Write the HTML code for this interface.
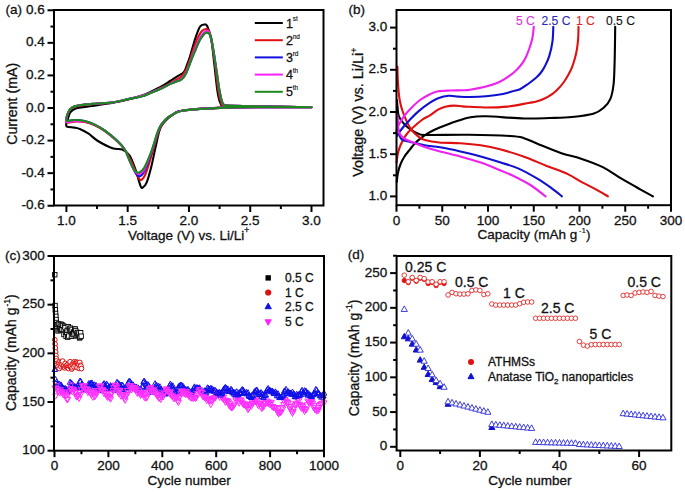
<!DOCTYPE html><html><head><meta charset="utf-8"><style>html,body{margin:0;padding:0;background:#fff;}svg{display:block;}</style></head><body>
<svg width="685" height="492" viewBox="0 0 685 492" font-family="Liberation Sans">
<rect width="685" height="492" fill="#fff"/>
<path d="M311.50,107.30 C297.08,107.35 246.33,107.07 225.00,107.60 C203.67,108.13 192.05,109.43 183.50,110.50 C174.95,111.57 177.40,111.37 173.70,114.00 C170.00,116.63 164.18,121.40 161.30,126.30 C158.42,131.20 158.02,136.88 156.40,143.40 C154.78,149.92 153.22,158.90 151.60,165.40 C149.98,171.90 148.13,178.75 146.70,182.40 C145.27,186.05 144.02,186.68 143.00,187.30 C141.98,187.92 141.82,188.95 140.60,186.10 C139.38,183.25 137.53,175.28 135.70,170.20 C133.87,165.12 131.83,159.05 129.60,155.60 C127.37,152.15 125.15,150.72 122.30,149.50 C119.45,148.28 116.57,149.72 112.50,148.30 C108.43,146.88 101.88,143.43 97.90,141.00 C93.92,138.57 91.52,135.67 88.60,133.70 C85.68,131.73 82.78,130.22 80.40,129.20 C78.02,128.18 76.55,128.03 74.30,127.60 C72.05,127.17 68.22,127.37 66.90,126.60 C65.58,125.83 66.27,124.18 66.40,123.00 C66.53,121.82 67.05,121.27 67.70,119.50 C68.35,117.73 68.85,114.27 70.30,112.40 C71.75,110.53 73.18,109.32 76.40,108.30 C79.62,107.28 83.33,107.27 89.60,106.30 C95.87,105.33 105.27,104.30 114.00,102.50 C122.73,100.70 134.12,98.18 142.00,95.50 C149.88,92.82 156.63,88.82 161.30,86.40 C165.97,83.98 167.27,82.70 170.00,81.00 C172.73,79.30 175.40,77.68 177.70,76.20 C180.00,74.72 182.28,73.88 183.80,72.10 C185.32,70.32 185.78,68.05 186.80,65.50 C187.82,62.95 188.87,60.05 189.90,56.80 C190.93,53.55 191.98,49.42 193.00,46.00 C194.02,42.58 194.82,39.55 196.00,36.30 C197.18,33.05 198.73,28.47 200.10,26.50 C201.47,24.53 203.00,24.53 204.20,24.50 C205.40,24.47 206.10,23.65 207.30,26.30 C208.50,28.95 210.22,33.95 211.40,40.40 C212.58,46.85 213.38,56.48 214.40,65.00 C215.42,73.52 216.47,85.08 217.50,91.50 C218.53,97.92 219.18,101.17 220.60,103.50 C222.02,105.83 218.77,105.00 226.00,105.50 C233.23,106.00 249.75,106.22 264.00,106.50 C278.25,106.78 303.58,107.08 311.50,107.20" fill="none" stroke="#000000" stroke-width="2.1" stroke-linejoin="round" stroke-linecap="round"/>
<path d="M311.50,107.30 C297.08,107.35 246.33,107.07 225.00,107.60 C203.67,108.13 192.05,109.43 183.50,110.50 C174.95,111.57 176.95,112.17 173.70,114.00 C170.45,115.83 166.53,118.50 164.00,121.50 C161.47,124.50 160.50,126.58 158.50,132.00 C156.50,137.42 154.17,147.00 152.00,154.00 C149.83,161.00 147.33,169.67 145.50,174.00 C143.67,178.33 142.33,179.67 141.00,180.00 C139.67,180.33 139.08,179.00 137.50,176.00 C135.92,173.00 133.58,166.33 131.50,162.00 C129.42,157.67 127.35,153.42 125.00,150.00 C122.65,146.58 120.75,144.63 117.40,141.50 C114.05,138.37 108.68,133.92 104.90,131.20 C101.12,128.48 98.10,126.73 94.70,125.20 C91.30,123.67 87.90,122.60 84.50,122.00 C81.10,121.40 77.27,121.55 74.30,121.60 C71.33,121.65 67.72,123.73 66.70,122.30 C65.68,120.87 67.27,115.42 68.20,113.00 C69.13,110.58 70.43,109.03 72.30,107.80 C74.17,106.57 75.67,106.23 79.40,105.60 C83.13,104.97 88.93,104.55 94.70,104.00 C100.47,103.45 106.05,103.68 114.00,102.30 C121.95,100.92 134.52,98.12 142.40,95.70 C150.28,93.28 156.45,90.00 161.30,87.80 C166.15,85.60 168.77,83.97 171.50,82.50 C174.23,81.03 175.87,80.17 177.70,79.00 C179.53,77.83 181.12,77.00 182.50,75.50 C183.88,74.00 184.77,72.58 186.00,70.00 C187.23,67.42 188.73,63.25 189.90,60.00 C191.07,56.75 191.98,53.50 193.00,50.50 C194.02,47.50 194.92,44.67 196.00,42.00 C197.08,39.33 198.42,36.42 199.50,34.50 C200.58,32.58 201.55,31.38 202.50,30.50 C203.45,29.62 204.20,29.20 205.20,29.20 C206.20,29.20 207.45,28.70 208.50,30.50 C209.55,32.30 210.50,35.08 211.50,40.00 C212.50,44.92 213.45,52.17 214.50,60.00 C215.55,67.83 216.72,80.08 217.80,87.00 C218.88,93.92 219.60,98.42 221.00,101.50 C222.40,104.58 219.03,104.67 226.20,105.50 C233.37,106.33 249.78,106.22 264.00,106.50 C278.22,106.78 303.58,107.08 311.50,107.20" fill="none" stroke="#e01010" stroke-width="2.1" stroke-linejoin="round" stroke-linecap="round"/>
<path d="M311.50,107.30 C297.08,107.35 246.33,107.07 225.00,107.60 C203.67,108.13 192.05,109.43 183.50,110.50 C174.95,111.57 176.78,112.42 173.70,114.00 C170.62,115.58 167.47,117.42 165.00,120.00 C162.53,122.58 161.10,124.17 158.90,129.50 C156.70,134.83 154.20,145.08 151.80,152.00 C149.40,158.92 146.55,166.95 144.50,171.00 C142.45,175.05 141.00,175.97 139.50,176.30 C138.00,176.63 137.08,175.47 135.50,173.00 C133.92,170.53 131.80,165.42 130.00,161.50 C128.20,157.58 126.80,152.92 124.70,149.50 C122.60,146.08 120.70,144.13 117.40,141.00 C114.10,137.87 108.68,133.43 104.90,130.70 C101.12,127.97 98.10,126.22 94.70,124.60 C91.30,122.98 87.90,121.77 84.50,121.00 C81.10,120.23 77.27,120.08 74.30,120.00 C71.33,119.92 67.72,121.77 66.70,120.50 C65.68,119.23 67.27,114.60 68.20,112.40 C69.13,110.20 70.43,108.48 72.30,107.30 C74.17,106.12 75.67,105.90 79.40,105.30 C83.13,104.70 88.93,104.22 94.70,103.70 C100.47,103.18 108.42,102.97 114.00,102.20 C119.58,101.43 123.70,100.03 128.20,99.10 C132.70,98.17 137.20,97.65 141.00,96.60 C144.80,95.55 147.62,94.15 151.00,92.80 C154.38,91.45 157.88,90.07 161.30,88.50 C164.72,86.93 168.88,84.60 171.50,83.40 C174.12,82.20 175.30,81.98 177.00,81.30 C178.70,80.62 180.23,80.55 181.70,79.30 C183.17,78.05 184.43,76.43 185.80,73.80 C187.17,71.17 188.70,66.55 189.90,63.50 C191.10,60.45 191.98,57.98 193.00,55.50 C194.02,53.02 195.00,50.93 196.00,48.60 C197.00,46.27 197.97,43.55 199.00,41.50 C200.03,39.45 200.98,37.80 202.20,36.30 C203.42,34.80 204.93,32.63 206.30,32.50 C207.67,32.37 209.22,32.47 210.40,35.50 C211.58,38.53 212.38,44.77 213.40,50.70 C214.42,56.63 215.47,64.30 216.50,71.10 C217.53,77.90 218.58,86.13 219.60,91.50 C220.62,96.87 221.50,100.97 222.60,103.30 C223.70,105.63 223.77,105.08 226.20,105.50 C228.63,105.92 230.90,105.63 237.20,105.80 C243.50,105.97 251.62,106.27 264.00,106.50 C276.38,106.73 303.58,107.08 311.50,107.20" fill="none" stroke="#1010e0" stroke-width="2.1" stroke-linejoin="round" stroke-linecap="round"/>
<path d="M311.50,107.30 C297.08,107.35 246.33,107.07 225.00,107.60 C203.67,108.13 192.05,109.43 183.50,110.50 C174.95,111.57 176.70,112.50 173.70,114.00 C170.70,115.50 167.97,117.00 165.50,119.50 C163.03,122.00 161.20,123.75 158.90,129.00 C156.60,134.25 154.13,144.25 151.70,151.00 C149.27,157.75 146.42,165.63 144.30,169.50 C142.18,173.37 140.55,173.87 139.00,174.20 C137.45,174.53 136.53,173.70 135.00,171.50 C133.47,169.30 131.52,164.67 129.80,161.00 C128.08,157.33 126.77,152.83 124.70,149.50 C122.63,146.17 120.70,144.13 117.40,141.00 C114.10,137.87 108.68,133.43 104.90,130.70 C101.12,127.97 98.10,126.13 94.70,124.60 C91.30,123.07 87.90,122.07 84.50,121.50 C81.10,120.93 77.27,121.15 74.30,121.20 C71.33,121.25 67.72,123.27 66.70,121.80 C65.68,120.33 67.27,114.82 68.20,112.40 C69.13,109.98 70.43,108.48 72.30,107.30 C74.17,106.12 75.67,105.90 79.40,105.30 C83.13,104.70 88.93,104.22 94.70,103.70 C100.47,103.18 108.42,102.97 114.00,102.20 C119.58,101.43 123.47,100.20 128.20,99.10 C132.93,98.00 136.88,97.40 142.40,95.60 C147.92,93.80 156.45,90.37 161.30,88.30 C166.15,86.23 168.88,84.42 171.50,83.20 C174.12,81.98 175.30,81.78 177.00,81.00 C178.70,80.22 180.23,79.83 181.70,78.50 C183.17,77.17 184.43,75.67 185.80,73.00 C187.17,70.33 188.70,65.67 189.90,62.50 C191.10,59.33 191.98,56.67 193.00,54.00 C194.02,51.33 195.00,48.92 196.00,46.50 C197.00,44.08 197.97,41.50 199.00,39.50 C200.03,37.50 201.03,35.92 202.20,34.50 C203.37,33.08 204.78,31.25 206.00,31.00 C207.22,30.75 208.33,30.17 209.50,33.00 C210.67,35.83 211.83,41.83 213.00,48.00 C214.17,54.17 215.40,62.83 216.50,70.00 C217.60,77.17 218.58,85.45 219.60,91.00 C220.62,96.55 221.50,100.88 222.60,103.30 C223.70,105.72 223.77,105.08 226.20,105.50 C228.63,105.92 230.90,105.63 237.20,105.80 C243.50,105.97 251.62,106.27 264.00,106.50 C276.38,106.73 303.58,107.08 311.50,107.20" fill="none" stroke="#ff20ff" stroke-width="2.1" stroke-linejoin="round" stroke-linecap="round"/>
<path d="M311.50,107.30 C303.58,107.25 278.42,106.95 264.00,107.00 C249.58,107.05 235.17,107.30 225.00,107.60 C214.83,107.90 209.92,108.32 203.00,108.80 C196.08,109.28 188.38,109.63 183.50,110.50 C178.62,111.37 176.58,112.58 173.70,114.00 C170.82,115.42 168.67,116.53 166.20,119.00 C163.73,121.47 161.33,123.52 158.90,128.80 C156.47,134.08 154.05,144.20 151.60,150.70 C149.15,157.20 146.37,164.13 144.20,167.80 C142.03,171.47 140.22,172.30 138.60,172.70 C136.98,173.10 136.00,172.23 134.50,170.20 C133.00,168.17 131.23,163.95 129.60,160.50 C127.97,157.05 126.73,152.75 124.70,149.50 C122.67,146.25 120.70,144.13 117.40,141.00 C114.10,137.87 108.68,133.43 104.90,130.70 C101.12,127.97 98.10,126.22 94.70,124.60 C91.30,122.98 87.90,121.77 84.50,121.00 C81.10,120.23 77.27,120.08 74.30,120.00 C71.33,119.92 67.72,121.77 66.70,120.50 C65.68,119.23 67.27,114.60 68.20,112.40 C69.13,110.20 70.43,108.48 72.30,107.30 C74.17,106.12 75.67,105.90 79.40,105.30 C83.13,104.70 88.93,104.22 94.70,103.70 C100.47,103.18 108.42,102.97 114.00,102.20 C119.58,101.43 123.70,100.03 128.20,99.10 C132.70,98.17 137.20,97.65 141.00,96.60 C144.80,95.55 147.62,94.15 151.00,92.80 C154.38,91.45 157.88,90.07 161.30,88.50 C164.72,86.93 168.88,84.60 171.50,83.40 C174.12,82.20 175.30,81.98 177.00,81.30 C178.70,80.62 180.23,80.55 181.70,79.30 C183.17,78.05 184.43,76.43 185.80,73.80 C187.17,71.17 188.70,66.55 189.90,63.50 C191.10,60.45 191.98,57.98 193.00,55.50 C194.02,53.02 195.00,50.93 196.00,48.60 C197.00,46.27 197.97,43.55 199.00,41.50 C200.03,39.45 200.98,37.80 202.20,36.30 C203.42,34.80 204.93,32.63 206.30,32.50 C207.67,32.37 209.22,32.47 210.40,35.50 C211.58,38.53 212.38,44.77 213.40,50.70 C214.42,56.63 215.47,64.30 216.50,71.10 C217.53,77.90 218.58,86.13 219.60,91.50 C220.62,96.87 221.50,100.97 222.60,103.30 C223.70,105.63 223.77,105.08 226.20,105.50 C228.63,105.92 230.90,105.63 237.20,105.80 C243.50,105.97 251.62,106.27 264.00,106.50 C276.38,106.73 303.58,107.08 311.50,107.20" fill="none" stroke="#1a8a1a" stroke-width="2.1" stroke-linejoin="round" stroke-linecap="round"/>
<rect x="54.00" y="10.00" width="269.50" height="195.50" fill="none" stroke="#000" stroke-width="2.0"/>
<line x1="66.40" y1="205.50" x2="66.40" y2="212.00" stroke="#000" stroke-width="2"/>
<text x="66.40" y="225.10" font-size="13.5" text-anchor="middle" fill="#111" stroke="#111" stroke-width="0.3" >1.0</text>
<line x1="127.68" y1="205.50" x2="127.68" y2="212.00" stroke="#000" stroke-width="2"/>
<text x="127.68" y="225.10" font-size="13.5" text-anchor="middle" fill="#111" stroke="#111" stroke-width="0.3" >1.5</text>
<line x1="188.95" y1="205.50" x2="188.95" y2="212.00" stroke="#000" stroke-width="2"/>
<text x="188.95" y="225.10" font-size="13.5" text-anchor="middle" fill="#111" stroke="#111" stroke-width="0.3" >2.0</text>
<line x1="250.22" y1="205.50" x2="250.22" y2="212.00" stroke="#000" stroke-width="2"/>
<text x="250.22" y="225.10" font-size="13.5" text-anchor="middle" fill="#111" stroke="#111" stroke-width="0.3" >2.5</text>
<line x1="311.50" y1="205.50" x2="311.50" y2="212.00" stroke="#000" stroke-width="2"/>
<text x="311.50" y="225.10" font-size="13.5" text-anchor="middle" fill="#111" stroke="#111" stroke-width="0.3" >3.0</text>
<line x1="97.04" y1="205.50" x2="97.04" y2="209.00" stroke="#000" stroke-width="2"/>
<line x1="158.31" y1="205.50" x2="158.31" y2="209.00" stroke="#000" stroke-width="2"/>
<line x1="219.59" y1="205.50" x2="219.59" y2="209.00" stroke="#000" stroke-width="2"/>
<line x1="280.86" y1="205.50" x2="280.86" y2="209.00" stroke="#000" stroke-width="2"/>
<line x1="47.50" y1="10.26" x2="54.00" y2="10.26" stroke="#000" stroke-width="2"/>
<text x="44.70" y="13.86" font-size="13.5" text-anchor="end" fill="#111" stroke="#111" stroke-width="0.3" >0.6</text>
<line x1="47.50" y1="42.84" x2="54.00" y2="42.84" stroke="#000" stroke-width="2"/>
<text x="44.70" y="46.44" font-size="13.5" text-anchor="end" fill="#111" stroke="#111" stroke-width="0.3" >0.4</text>
<line x1="47.50" y1="75.42" x2="54.00" y2="75.42" stroke="#000" stroke-width="2"/>
<text x="44.70" y="79.02" font-size="13.5" text-anchor="end" fill="#111" stroke="#111" stroke-width="0.3" >0.2</text>
<line x1="47.50" y1="108.00" x2="54.00" y2="108.00" stroke="#000" stroke-width="2"/>
<text x="44.70" y="111.60" font-size="13.5" text-anchor="end" fill="#111" stroke="#111" stroke-width="0.3" >0.0</text>
<line x1="47.50" y1="140.58" x2="54.00" y2="140.58" stroke="#000" stroke-width="2"/>
<text x="44.70" y="144.18" font-size="13.5" text-anchor="end" fill="#111" stroke="#111" stroke-width="0.3" >-0.2</text>
<line x1="47.50" y1="173.16" x2="54.00" y2="173.16" stroke="#000" stroke-width="2"/>
<text x="44.70" y="176.76" font-size="13.5" text-anchor="end" fill="#111" stroke="#111" stroke-width="0.3" >-0.4</text>
<line x1="47.50" y1="205.74" x2="54.00" y2="205.74" stroke="#000" stroke-width="2"/>
<text x="44.70" y="209.34" font-size="13.5" text-anchor="end" fill="#111" stroke="#111" stroke-width="0.3" >-0.6</text>
<line x1="50.50" y1="26.55" x2="54.00" y2="26.55" stroke="#000" stroke-width="2"/>
<line x1="50.50" y1="59.13" x2="54.00" y2="59.13" stroke="#000" stroke-width="2"/>
<line x1="50.50" y1="91.71" x2="54.00" y2="91.71" stroke="#000" stroke-width="2"/>
<line x1="50.50" y1="124.29" x2="54.00" y2="124.29" stroke="#000" stroke-width="2"/>
<line x1="50.50" y1="156.87" x2="54.00" y2="156.87" stroke="#000" stroke-width="2"/>
<line x1="50.50" y1="189.45" x2="54.00" y2="189.45" stroke="#000" stroke-width="2"/>
<text x="5.50" y="13.80" font-size="13.5" text-anchor="start" fill="#111" stroke="#111" stroke-width="0.3" >(a)</text>
<text x="128.00" y="239.50" font-size="13.5" text-anchor="start" fill="#111" stroke="#111" stroke-width="0.3" >Voltage (V) vs. Li/Li<tspan dy="-6.5" font-size="8.5">+</tspan></text>
<text transform="translate(16.8,103.8) rotate(-90)" font-size="14.2" text-anchor="middle" fill="#111" stroke="#111" stroke-width="0.3">Current (mA)</text>
<line x1="254.8" y1="23.00" x2="282.8" y2="23.00" stroke="#000000" stroke-width="2.0"/>
<text x="286.00" y="27.60" font-size="12.5" text-anchor="start" fill="#111" stroke="#111" stroke-width="0.3" >1<tspan dx="-0.3" dy="-6.3" font-size="6.5" stroke-width="0.15">st</tspan></text>
<line x1="254.8" y1="40.20" x2="282.8" y2="40.20" stroke="#e01010" stroke-width="2.0"/>
<text x="286.00" y="44.80" font-size="12.5" text-anchor="start" fill="#111" stroke="#111" stroke-width="0.3" >2<tspan dx="-0.3" dy="-6.3" font-size="6.5" stroke-width="0.15">nd</tspan></text>
<line x1="254.8" y1="57.40" x2="282.8" y2="57.40" stroke="#1010e0" stroke-width="2.0"/>
<text x="286.00" y="62.00" font-size="12.5" text-anchor="start" fill="#111" stroke="#111" stroke-width="0.3" >3<tspan dx="-0.3" dy="-6.3" font-size="6.5" stroke-width="0.15">rd</tspan></text>
<line x1="254.8" y1="74.60" x2="282.8" y2="74.60" stroke="#ff20ff" stroke-width="2.0"/>
<text x="286.00" y="79.20" font-size="12.5" text-anchor="start" fill="#111" stroke="#111" stroke-width="0.3" >4<tspan dx="-0.3" dy="-6.3" font-size="6.5" stroke-width="0.15">th</tspan></text>
<line x1="254.8" y1="91.80" x2="282.8" y2="91.80" stroke="#1a8a1a" stroke-width="2.0"/>
<text x="286.00" y="96.40" font-size="12.5" text-anchor="start" fill="#111" stroke="#111" stroke-width="0.3" >5<tspan dx="-0.3" dy="-6.3" font-size="6.5" stroke-width="0.15">th</tspan></text>
<path d="M396.80,181.80 C396.98,180.33 397.27,175.97 397.90,173.00 C398.53,170.03 399.50,166.75 400.60,164.00 C401.70,161.25 402.93,158.95 404.50,156.50 C406.07,154.05 408.25,151.52 410.00,149.30 C411.75,147.08 413.20,145.05 415.00,143.20 C416.80,141.35 418.88,139.72 420.80,138.20 C422.72,136.68 424.30,135.47 426.50,134.10 C428.70,132.73 431.88,131.05 434.00,130.00 C436.12,128.95 435.58,129.22 439.20,127.80 C442.82,126.38 450.47,123.27 455.70,121.50 C460.93,119.73 465.55,118.07 470.60,117.20 C475.65,116.33 477.03,116.08 486.00,116.30 C494.97,116.52 513.73,118.22 524.40,118.50 C535.07,118.78 542.07,118.25 550.00,118.00 C557.93,117.75 564.78,117.70 572.00,117.00 C579.22,116.30 587.97,115.40 593.30,113.80 C598.63,112.20 601.15,109.88 604.00,107.40 C606.85,104.92 608.80,102.80 610.40,98.90 C612.00,95.00 612.90,90.03 613.60,84.00 C614.30,77.97 614.37,69.70 614.60,62.70 C614.83,55.70 614.90,47.98 615.00,42.00 C615.10,36.02 615.17,29.33 615.20,26.80" fill="none" stroke="#000000" stroke-width="2.1" stroke-linejoin="round" stroke-linecap="round"/>
<path d="M396.90,100.00 C397.02,101.33 397.27,105.28 397.60,108.00 C397.93,110.72 397.87,113.70 398.90,116.30 C399.93,118.90 401.90,121.43 403.80,123.60 C405.70,125.77 407.87,127.62 410.30,129.30 C412.73,130.98 415.70,132.75 418.40,133.70 C421.10,134.65 418.17,134.82 426.50,135.00 C434.83,135.18 454.48,134.63 468.40,134.80 C482.32,134.97 500.83,135.48 510.00,136.00 C519.17,136.52 518.83,136.62 523.40,137.90 C527.97,139.18 531.18,141.18 537.40,143.70 C543.62,146.22 553.30,150.47 560.70,153.00 C568.10,155.53 574.78,156.55 581.80,158.90 C588.82,161.25 596.18,163.80 602.80,167.10 C609.42,170.40 615.27,175.00 621.50,178.70 C627.73,182.40 634.95,186.37 640.20,189.30 C645.45,192.23 650.87,195.13 653.00,196.30" fill="none" stroke="#000000" stroke-width="2.1" stroke-linejoin="round" stroke-linecap="round"/>
<path d="M396.60,162.40 C396.82,160.87 397.23,156.10 397.90,153.20 C398.57,150.30 399.35,147.90 400.60,145.00 C401.85,142.10 403.52,138.55 405.40,135.80 C407.28,133.05 409.05,131.22 411.90,128.50 C414.75,125.78 419.48,121.70 422.50,119.50 C425.52,117.30 427.40,116.95 430.00,115.30 C432.60,113.65 435.38,111.08 438.10,109.60 C440.82,108.12 443.58,107.07 446.30,106.40 C449.02,105.73 451.70,105.60 454.40,105.60 C457.10,105.60 459.90,106.20 462.50,106.40 C465.10,106.60 466.08,106.62 470.00,106.80 C473.92,106.98 479.78,107.53 486.00,107.50 C492.22,107.47 500.18,107.35 507.30,106.60 C514.42,105.85 523.87,103.83 528.70,103.00 C533.53,102.17 533.75,102.30 536.30,101.60 C538.85,100.90 541.30,100.10 544.00,98.80 C546.70,97.50 550.17,95.43 552.50,93.80 C554.83,92.17 556.10,90.97 558.00,89.00 C559.90,87.03 562.15,84.42 563.90,82.00 C565.65,79.58 567.15,76.95 568.50,74.50 C569.85,72.05 570.92,70.05 572.00,67.30 C573.08,64.55 574.18,60.98 575.00,58.00 C575.82,55.02 576.37,52.73 576.90,49.40 C577.43,46.07 577.93,41.77 578.20,38.00 C578.47,34.23 578.45,28.67 578.50,26.80" fill="none" stroke="#e01010" stroke-width="2.1" stroke-linejoin="round" stroke-linecap="round"/>
<path d="M397.40,66.60 C397.47,68.83 397.58,75.77 397.80,80.00 C398.02,84.23 398.38,88.67 398.70,92.00 C399.02,95.33 399.13,97.03 399.70,100.00 C400.27,102.97 401.02,106.42 402.10,109.80 C403.18,113.18 404.70,117.05 406.20,120.30 C407.70,123.55 409.07,126.58 411.10,129.30 C413.13,132.02 416.10,134.82 418.40,136.60 C420.70,138.38 421.43,139.02 424.90,140.00 C428.37,140.98 433.30,141.97 439.20,142.50 C445.10,143.03 453.38,142.73 460.30,143.20 C467.22,143.67 474.08,144.28 480.70,145.30 C487.32,146.32 492.88,147.43 500.00,149.30 C507.12,151.17 515.62,153.73 523.40,156.50 C531.18,159.27 539.30,162.97 546.70,165.90 C554.10,168.83 561.95,171.38 567.80,174.10 C573.65,176.82 577.13,179.67 581.80,182.20 C586.47,184.73 591.45,186.95 595.80,189.30 C600.15,191.65 605.88,195.13 607.90,196.30" fill="none" stroke="#e01010" stroke-width="2.1" stroke-linejoin="round" stroke-linecap="round"/>
<path d="M397.30,136.00 C397.42,135.68 397.20,135.35 398.00,134.10 C398.80,132.85 400.20,130.80 402.10,128.50 C404.00,126.20 406.68,123.15 409.40,120.30 C412.12,117.45 414.97,114.33 418.40,111.40 C421.83,108.47 426.72,104.88 430.00,102.70 C433.28,100.52 434.98,99.45 438.10,98.30 C441.22,97.15 445.30,96.08 448.70,95.80 C452.10,95.52 454.95,96.40 458.50,96.60 C462.05,96.80 465.42,97.05 470.00,97.00 C474.58,96.95 480.50,96.80 486.00,96.30 C491.50,95.80 498.67,94.80 503.00,94.00 C507.33,93.20 509.17,92.30 512.00,91.50 C514.83,90.70 517.32,90.45 520.00,89.20 C522.68,87.95 525.38,85.95 528.10,84.00 C530.82,82.05 534.15,79.42 536.30,77.50 C538.45,75.58 539.55,74.42 541.00,72.50 C542.45,70.58 543.62,68.77 545.00,66.00 C546.38,63.23 548.05,60.02 549.30,55.90 C550.55,51.78 551.83,46.15 552.50,41.30 C553.17,36.45 553.17,29.22 553.30,26.80" fill="none" stroke="#1010d0" stroke-width="2.1" stroke-linejoin="round" stroke-linecap="round"/>
<path d="M397.00,118.00 C397.25,120.17 397.87,127.62 398.50,131.00 C399.13,134.38 399.72,136.67 400.80,138.30 C401.88,139.93 403.47,140.20 405.00,140.80 C406.53,141.40 406.73,141.15 410.00,141.90 C413.27,142.65 419.60,144.40 424.60,145.30 C429.60,146.20 434.05,146.28 440.00,147.30 C445.95,148.32 453.52,149.88 460.30,151.40 C467.08,152.92 474.08,154.58 480.70,156.40 C487.32,158.22 493.67,160.27 500.00,162.30 C506.33,164.33 512.47,165.87 518.70,168.60 C524.93,171.33 531.95,175.45 537.40,178.70 C542.85,181.95 547.32,185.17 551.40,188.10 C555.48,191.03 560.15,194.93 561.90,196.30" fill="none" stroke="#1010d0" stroke-width="2.1" stroke-linejoin="round" stroke-linecap="round"/>
<path d="M396.40,130.90 C396.82,129.82 397.53,126.98 398.90,124.40 C400.27,121.82 402.70,117.98 404.60,115.40 C406.50,112.82 407.73,111.47 410.30,108.90 C412.87,106.33 416.72,102.45 420.00,100.00 C423.28,97.55 426.98,95.65 430.00,94.20 C433.02,92.75 434.72,91.92 438.10,91.30 C441.48,90.68 446.23,90.67 450.30,90.50 C454.37,90.33 459.22,90.43 462.50,90.30 C465.78,90.17 466.08,90.33 470.00,89.70 C473.92,89.07 481.20,87.75 486.00,86.50 C490.80,85.25 495.07,83.87 498.80,82.20 C502.53,80.53 505.70,78.28 508.40,76.50 C511.10,74.72 512.90,73.42 515.00,71.50 C517.10,69.58 519.25,67.25 521.00,65.00 C522.75,62.75 524.08,60.83 525.50,58.00 C526.92,55.17 528.35,51.33 529.50,48.00 C530.65,44.67 531.68,41.53 532.40,38.00 C533.12,34.47 533.57,28.67 533.80,26.80" fill="none" stroke="#ee22ee" stroke-width="2.1" stroke-linejoin="round" stroke-linecap="round"/>
<path d="M397.30,114.80 C397.43,116.67 397.83,123.05 398.10,126.00 C398.37,128.95 397.95,130.47 398.90,132.50 C399.85,134.53 401.95,136.75 403.80,138.20 C405.65,139.65 406.53,139.73 410.00,141.20 C413.47,142.67 419.60,145.30 424.60,147.00 C429.60,148.70 434.05,149.83 440.00,151.40 C445.95,152.97 453.52,154.53 460.30,156.40 C467.08,158.27 474.08,160.30 480.70,162.60 C487.32,164.90 494.45,167.93 500.00,170.20 C505.55,172.47 508.93,173.73 514.00,176.20 C519.07,178.67 525.13,181.65 530.40,185.00 C535.67,188.35 543.07,194.42 545.60,196.30" fill="none" stroke="#ee22ee" stroke-width="2.1" stroke-linejoin="round" stroke-linecap="round"/>
<rect x="396.50" y="10.00" width="274.50" height="195.20" fill="none" stroke="#000" stroke-width="2.0"/>
<line x1="396.50" y1="205.20" x2="396.50" y2="211.70" stroke="#000" stroke-width="2"/>
<text x="396.50" y="224.80" font-size="13.5" text-anchor="middle" fill="#111" stroke="#111" stroke-width="0.3" >0</text>
<line x1="442.25" y1="205.20" x2="442.25" y2="211.70" stroke="#000" stroke-width="2"/>
<text x="442.25" y="224.80" font-size="13.5" text-anchor="middle" fill="#111" stroke="#111" stroke-width="0.3" >50</text>
<line x1="488.00" y1="205.20" x2="488.00" y2="211.70" stroke="#000" stroke-width="2"/>
<text x="488.00" y="224.80" font-size="13.5" text-anchor="middle" fill="#111" stroke="#111" stroke-width="0.3" >100</text>
<line x1="533.75" y1="205.20" x2="533.75" y2="211.70" stroke="#000" stroke-width="2"/>
<text x="533.75" y="224.80" font-size="13.5" text-anchor="middle" fill="#111" stroke="#111" stroke-width="0.3" >150</text>
<line x1="579.50" y1="205.20" x2="579.50" y2="211.70" stroke="#000" stroke-width="2"/>
<text x="579.50" y="224.80" font-size="13.5" text-anchor="middle" fill="#111" stroke="#111" stroke-width="0.3" >200</text>
<line x1="625.25" y1="205.20" x2="625.25" y2="211.70" stroke="#000" stroke-width="2"/>
<text x="625.25" y="224.80" font-size="13.5" text-anchor="middle" fill="#111" stroke="#111" stroke-width="0.3" >250</text>
<line x1="671.00" y1="205.20" x2="671.00" y2="211.70" stroke="#000" stroke-width="2"/>
<text x="671.00" y="224.80" font-size="13.5" text-anchor="middle" fill="#111" stroke="#111" stroke-width="0.3" >300</text>
<line x1="419.38" y1="205.20" x2="419.38" y2="208.70" stroke="#000" stroke-width="2"/>
<line x1="465.12" y1="205.20" x2="465.12" y2="208.70" stroke="#000" stroke-width="2"/>
<line x1="510.88" y1="205.20" x2="510.88" y2="208.70" stroke="#000" stroke-width="2"/>
<line x1="556.62" y1="205.20" x2="556.62" y2="208.70" stroke="#000" stroke-width="2"/>
<line x1="602.38" y1="205.20" x2="602.38" y2="208.70" stroke="#000" stroke-width="2"/>
<line x1="648.12" y1="205.20" x2="648.12" y2="208.70" stroke="#000" stroke-width="2"/>
<line x1="390.00" y1="196.40" x2="396.50" y2="196.40" stroke="#000" stroke-width="2"/>
<text x="387.20" y="200.00" font-size="13.5" text-anchor="end" fill="#111" stroke="#111" stroke-width="0.3" >1.0</text>
<line x1="390.00" y1="154.20" x2="396.50" y2="154.20" stroke="#000" stroke-width="2"/>
<text x="387.20" y="157.80" font-size="13.5" text-anchor="end" fill="#111" stroke="#111" stroke-width="0.3" >1.5</text>
<line x1="390.00" y1="112.00" x2="396.50" y2="112.00" stroke="#000" stroke-width="2"/>
<text x="387.20" y="115.60" font-size="13.5" text-anchor="end" fill="#111" stroke="#111" stroke-width="0.3" >2.0</text>
<line x1="390.00" y1="69.80" x2="396.50" y2="69.80" stroke="#000" stroke-width="2"/>
<text x="387.20" y="73.40" font-size="13.5" text-anchor="end" fill="#111" stroke="#111" stroke-width="0.3" >2.5</text>
<line x1="390.00" y1="27.60" x2="396.50" y2="27.60" stroke="#000" stroke-width="2"/>
<text x="387.20" y="31.20" font-size="13.5" text-anchor="end" fill="#111" stroke="#111" stroke-width="0.3" >3.0</text>
<line x1="393.00" y1="175.30" x2="396.50" y2="175.30" stroke="#000" stroke-width="2"/>
<line x1="393.00" y1="133.10" x2="396.50" y2="133.10" stroke="#000" stroke-width="2"/>
<line x1="393.00" y1="90.90" x2="396.50" y2="90.90" stroke="#000" stroke-width="2"/>
<line x1="393.00" y1="48.70" x2="396.50" y2="48.70" stroke="#000" stroke-width="2"/>
<text x="348.50" y="13.80" font-size="13.5" text-anchor="start" fill="#111" stroke="#111" stroke-width="0.3" >(b)</text>
<text x="477.50" y="239.30" font-size="13.5" text-anchor="start" fill="#111" stroke="#111" stroke-width="0.3" >Capacity (mAh g<tspan dx="1.5" dy="-6.5" font-size="8" stroke-width="0.15">-1</tspan><tspan dy="6.5">)</tspan></text>
<text transform="translate(363.0,176.8) rotate(-90)" font-size="14.4" fill="#111" stroke="#111" stroke-width="0.3">Voltage (V) vs. Li/Li<tspan dy="-6.5" font-size="8.5">+</tspan></text>
<text x="516.00" y="24.80" font-size="12.1" text-anchor="start" fill="#dd33dd" stroke="#dd33dd" stroke-width="0.3" style="stroke-width:0.12">5 C</text>
<text x="541.50" y="24.80" font-size="12.1" text-anchor="start" fill="#2a2ab8" stroke="#2a2ab8" stroke-width="0.3" style="stroke-width:0.12">2.5 C</text>
<text x="576.00" y="24.80" font-size="12.1" text-anchor="start" fill="#dd2222" stroke="#dd2222" stroke-width="0.3" style="stroke-width:0.12">1 C</text>
<text x="606.00" y="24.80" font-size="12.1" text-anchor="start" fill="#111" stroke="#111" stroke-width="0.3" style="stroke-width:0.12">0.5 C</text>
<rect x="52.57" y="272.50" width="4.4" height="4.4" fill="#fff" stroke="#000" stroke-width="0.9"/>
<rect x="52.84" y="303.30" width="4.4" height="4.4" fill="#fff" stroke="#000" stroke-width="0.9"/>
<rect x="53.11" y="307.60" width="4.4" height="4.4" fill="#fff" stroke="#000" stroke-width="0.9"/>
<rect x="53.38" y="311.20" width="4.4" height="4.4" fill="#fff" stroke="#000" stroke-width="0.9"/>
<rect x="53.65" y="314.10" width="4.4" height="4.4" fill="#fff" stroke="#000" stroke-width="0.9"/>
<rect x="53.92" y="317.30" width="4.4" height="4.4" fill="#fff" stroke="#000" stroke-width="0.9"/>
<rect x="54.19" y="320.30" width="4.4" height="4.4" fill="#fff" stroke="#000" stroke-width="0.9"/>
<rect x="54.46" y="322.80" width="4.4" height="4.4" fill="#fff" stroke="#000" stroke-width="0.9"/>
<rect x="54.73" y="324.35" width="4.4" height="4.4" fill="#fff" stroke="#000" stroke-width="0.9"/>
<rect x="55.26" y="322.35" width="4.4" height="4.4" fill="#fff" stroke="#000" stroke-width="0.9"/>
<rect x="55.80" y="328.72" width="4.4" height="4.4" fill="#fff" stroke="#000" stroke-width="0.9"/>
<rect x="56.34" y="321.72" width="4.4" height="4.4" fill="#fff" stroke="#000" stroke-width="0.9"/>
<rect x="56.88" y="327.58" width="4.4" height="4.4" fill="#fff" stroke="#000" stroke-width="0.9"/>
<rect x="57.42" y="325.65" width="4.4" height="4.4" fill="#fff" stroke="#000" stroke-width="0.9"/>
<rect x="57.96" y="322.06" width="4.4" height="4.4" fill="#fff" stroke="#000" stroke-width="0.9"/>
<rect x="58.50" y="327.68" width="4.4" height="4.4" fill="#fff" stroke="#000" stroke-width="0.9"/>
<rect x="59.04" y="322.16" width="4.4" height="4.4" fill="#fff" stroke="#000" stroke-width="0.9"/>
<rect x="59.58" y="327.09" width="4.4" height="4.4" fill="#fff" stroke="#000" stroke-width="0.9"/>
<rect x="60.12" y="322.89" width="4.4" height="4.4" fill="#fff" stroke="#000" stroke-width="0.9"/>
<rect x="60.65" y="323.31" width="4.4" height="4.4" fill="#fff" stroke="#000" stroke-width="0.9"/>
<rect x="61.19" y="327.44" width="4.4" height="4.4" fill="#fff" stroke="#000" stroke-width="0.9"/>
<rect x="61.73" y="332.33" width="4.4" height="4.4" fill="#fff" stroke="#000" stroke-width="0.9"/>
<rect x="62.27" y="324.21" width="4.4" height="4.4" fill="#fff" stroke="#000" stroke-width="0.9"/>
<rect x="62.81" y="325.54" width="4.4" height="4.4" fill="#fff" stroke="#000" stroke-width="0.9"/>
<rect x="63.35" y="330.40" width="4.4" height="4.4" fill="#fff" stroke="#000" stroke-width="0.9"/>
<rect x="63.89" y="334.25" width="4.4" height="4.4" fill="#fff" stroke="#000" stroke-width="0.9"/>
<rect x="64.43" y="330.11" width="4.4" height="4.4" fill="#fff" stroke="#000" stroke-width="0.9"/>
<rect x="64.97" y="328.19" width="4.4" height="4.4" fill="#fff" stroke="#000" stroke-width="0.9"/>
<rect x="65.51" y="334.95" width="4.4" height="4.4" fill="#fff" stroke="#000" stroke-width="0.9"/>
<rect x="66.04" y="324.52" width="4.4" height="4.4" fill="#fff" stroke="#000" stroke-width="0.9"/>
<rect x="66.58" y="333.86" width="4.4" height="4.4" fill="#fff" stroke="#000" stroke-width="0.9"/>
<rect x="67.12" y="327.60" width="4.4" height="4.4" fill="#fff" stroke="#000" stroke-width="0.9"/>
<rect x="67.66" y="326.13" width="4.4" height="4.4" fill="#fff" stroke="#000" stroke-width="0.9"/>
<rect x="68.20" y="326.01" width="4.4" height="4.4" fill="#fff" stroke="#000" stroke-width="0.9"/>
<rect x="68.74" y="328.29" width="4.4" height="4.4" fill="#fff" stroke="#000" stroke-width="0.9"/>
<rect x="69.28" y="334.04" width="4.4" height="4.4" fill="#fff" stroke="#000" stroke-width="0.9"/>
<rect x="69.82" y="327.20" width="4.4" height="4.4" fill="#fff" stroke="#000" stroke-width="0.9"/>
<rect x="70.36" y="331.74" width="4.4" height="4.4" fill="#fff" stroke="#000" stroke-width="0.9"/>
<rect x="70.90" y="332.51" width="4.4" height="4.4" fill="#fff" stroke="#000" stroke-width="0.9"/>
<rect x="71.43" y="329.77" width="4.4" height="4.4" fill="#fff" stroke="#000" stroke-width="0.9"/>
<rect x="71.97" y="331.81" width="4.4" height="4.4" fill="#fff" stroke="#000" stroke-width="0.9"/>
<rect x="72.51" y="326.77" width="4.4" height="4.4" fill="#fff" stroke="#000" stroke-width="0.9"/>
<rect x="73.05" y="326.91" width="4.4" height="4.4" fill="#fff" stroke="#000" stroke-width="0.9"/>
<rect x="73.59" y="328.63" width="4.4" height="4.4" fill="#fff" stroke="#000" stroke-width="0.9"/>
<rect x="74.13" y="333.79" width="4.4" height="4.4" fill="#fff" stroke="#000" stroke-width="0.9"/>
<rect x="74.67" y="331.28" width="4.4" height="4.4" fill="#fff" stroke="#000" stroke-width="0.9"/>
<rect x="75.21" y="330.25" width="4.4" height="4.4" fill="#fff" stroke="#000" stroke-width="0.9"/>
<rect x="75.75" y="333.22" width="4.4" height="4.4" fill="#fff" stroke="#000" stroke-width="0.9"/>
<rect x="76.29" y="332.00" width="4.4" height="4.4" fill="#fff" stroke="#000" stroke-width="0.9"/>
<rect x="76.82" y="330.58" width="4.4" height="4.4" fill="#fff" stroke="#000" stroke-width="0.9"/>
<rect x="77.36" y="335.78" width="4.4" height="4.4" fill="#fff" stroke="#000" stroke-width="0.9"/>
<rect x="77.90" y="334.95" width="4.4" height="4.4" fill="#fff" stroke="#000" stroke-width="0.9"/>
<rect x="78.44" y="330.50" width="4.4" height="4.4" fill="#fff" stroke="#000" stroke-width="0.9"/>
<rect x="78.98" y="333.97" width="4.4" height="4.4" fill="#fff" stroke="#000" stroke-width="0.9"/>
<circle cx="54.77" cy="339.80" r="2.4" fill="#fff" stroke="#e01010" stroke-width="1"/>
<circle cx="55.04" cy="344.00" r="2.4" fill="#fff" stroke="#e01010" stroke-width="1"/>
<circle cx="55.31" cy="348.00" r="2.4" fill="#fff" stroke="#e01010" stroke-width="1"/>
<circle cx="55.58" cy="352.00" r="2.4" fill="#fff" stroke="#e01010" stroke-width="1"/>
<circle cx="55.85" cy="355.50" r="2.4" fill="#fff" stroke="#e01010" stroke-width="1"/>
<circle cx="56.12" cy="358.50" r="2.4" fill="#fff" stroke="#e01010" stroke-width="1"/>
<circle cx="56.39" cy="361.00" r="2.4" fill="#fff" stroke="#e01010" stroke-width="1"/>
<circle cx="56.66" cy="363.50" r="2.4" fill="#fff" stroke="#e01010" stroke-width="1"/>
<circle cx="56.93" cy="365.50" r="2.4" fill="#fff" stroke="#e01010" stroke-width="1"/>
<circle cx="57.20" cy="364.70" r="2.4" fill="#fff" stroke="#e01010" stroke-width="1"/>
<circle cx="57.73" cy="367.52" r="2.4" fill="#fff" stroke="#e01010" stroke-width="1"/>
<circle cx="58.27" cy="366.39" r="2.4" fill="#fff" stroke="#e01010" stroke-width="1"/>
<circle cx="58.81" cy="362.89" r="2.4" fill="#fff" stroke="#e01010" stroke-width="1"/>
<circle cx="59.35" cy="368.43" r="2.4" fill="#fff" stroke="#e01010" stroke-width="1"/>
<circle cx="59.89" cy="361.60" r="2.4" fill="#fff" stroke="#e01010" stroke-width="1"/>
<circle cx="60.43" cy="364.02" r="2.4" fill="#fff" stroke="#e01010" stroke-width="1"/>
<circle cx="60.97" cy="366.73" r="2.4" fill="#fff" stroke="#e01010" stroke-width="1"/>
<circle cx="61.51" cy="361.97" r="2.4" fill="#fff" stroke="#e01010" stroke-width="1"/>
<circle cx="62.05" cy="364.66" r="2.4" fill="#fff" stroke="#e01010" stroke-width="1"/>
<circle cx="62.59" cy="361.14" r="2.4" fill="#fff" stroke="#e01010" stroke-width="1"/>
<circle cx="63.12" cy="366.13" r="2.4" fill="#fff" stroke="#e01010" stroke-width="1"/>
<circle cx="63.66" cy="366.91" r="2.4" fill="#fff" stroke="#e01010" stroke-width="1"/>
<circle cx="64.20" cy="365.43" r="2.4" fill="#fff" stroke="#e01010" stroke-width="1"/>
<circle cx="64.74" cy="367.83" r="2.4" fill="#fff" stroke="#e01010" stroke-width="1"/>
<circle cx="65.28" cy="363.46" r="2.4" fill="#fff" stroke="#e01010" stroke-width="1"/>
<circle cx="65.82" cy="366.47" r="2.4" fill="#fff" stroke="#e01010" stroke-width="1"/>
<circle cx="66.36" cy="365.71" r="2.4" fill="#fff" stroke="#e01010" stroke-width="1"/>
<circle cx="66.90" cy="365.62" r="2.4" fill="#fff" stroke="#e01010" stroke-width="1"/>
<circle cx="67.44" cy="364.69" r="2.4" fill="#fff" stroke="#e01010" stroke-width="1"/>
<circle cx="67.97" cy="367.70" r="2.4" fill="#fff" stroke="#e01010" stroke-width="1"/>
<circle cx="68.51" cy="368.54" r="2.4" fill="#fff" stroke="#e01010" stroke-width="1"/>
<circle cx="69.05" cy="364.91" r="2.4" fill="#fff" stroke="#e01010" stroke-width="1"/>
<circle cx="69.59" cy="366.41" r="2.4" fill="#fff" stroke="#e01010" stroke-width="1"/>
<circle cx="70.13" cy="361.77" r="2.4" fill="#fff" stroke="#e01010" stroke-width="1"/>
<circle cx="70.67" cy="366.75" r="2.4" fill="#fff" stroke="#e01010" stroke-width="1"/>
<circle cx="71.21" cy="366.36" r="2.4" fill="#fff" stroke="#e01010" stroke-width="1"/>
<circle cx="71.75" cy="369.05" r="2.4" fill="#fff" stroke="#e01010" stroke-width="1"/>
<circle cx="72.29" cy="367.75" r="2.4" fill="#fff" stroke="#e01010" stroke-width="1"/>
<circle cx="72.83" cy="363.65" r="2.4" fill="#fff" stroke="#e01010" stroke-width="1"/>
<circle cx="73.37" cy="364.46" r="2.4" fill="#fff" stroke="#e01010" stroke-width="1"/>
<circle cx="73.90" cy="366.65" r="2.4" fill="#fff" stroke="#e01010" stroke-width="1"/>
<circle cx="74.44" cy="361.74" r="2.4" fill="#fff" stroke="#e01010" stroke-width="1"/>
<circle cx="74.98" cy="365.12" r="2.4" fill="#fff" stroke="#e01010" stroke-width="1"/>
<circle cx="75.52" cy="362.91" r="2.4" fill="#fff" stroke="#e01010" stroke-width="1"/>
<circle cx="76.06" cy="362.56" r="2.4" fill="#fff" stroke="#e01010" stroke-width="1"/>
<circle cx="76.60" cy="362.15" r="2.4" fill="#fff" stroke="#e01010" stroke-width="1"/>
<circle cx="77.14" cy="367.56" r="2.4" fill="#fff" stroke="#e01010" stroke-width="1"/>
<circle cx="77.68" cy="362.75" r="2.4" fill="#fff" stroke="#e01010" stroke-width="1"/>
<circle cx="78.22" cy="363.67" r="2.4" fill="#fff" stroke="#e01010" stroke-width="1"/>
<circle cx="78.75" cy="364.79" r="2.4" fill="#fff" stroke="#e01010" stroke-width="1"/>
<circle cx="79.29" cy="368.44" r="2.4" fill="#fff" stroke="#e01010" stroke-width="1"/>
<circle cx="79.83" cy="362.51" r="2.4" fill="#fff" stroke="#e01010" stroke-width="1"/>
<circle cx="80.37" cy="365.31" r="2.4" fill="#fff" stroke="#e01010" stroke-width="1"/>
<circle cx="80.91" cy="366.09" r="2.4" fill="#fff" stroke="#e01010" stroke-width="1"/>
<circle cx="81.45" cy="368.63" r="2.4" fill="#fff" stroke="#e01010" stroke-width="1"/>
<path d="M54.77,366.48 L57.57,371.52 L51.97,371.52 Z" fill="none" stroke="#1010e8" stroke-width="1.0"/>
<path d="M55.58,376.48 L58.38,381.52 L52.78,381.52 Z" fill="none" stroke="#1010e8" stroke-width="1.0"/>
<path d="M56.39,379.26 L59.19,384.30 L53.59,384.30 Z" fill="none" stroke="#1010e8" stroke-width="1.0"/>
<path d="M57.20,382.20 L59.99,387.24 L54.40,387.24 Z" fill="none" stroke="#1010e8" stroke-width="1.0"/>
<path d="M58.00,381.38 L60.80,386.42 L55.20,386.42 Z" fill="none" stroke="#1010e8" stroke-width="1.0"/>
<path d="M58.81,382.42 L61.61,387.46 L56.01,387.46 Z" fill="none" stroke="#1010e8" stroke-width="1.0"/>
<path d="M59.62,381.19 L62.42,386.23 L56.82,386.23 Z" fill="none" stroke="#1010e8" stroke-width="1.0"/>
<path d="M60.43,382.73 L63.23,387.77 L57.63,387.77 Z" fill="none" stroke="#1010e8" stroke-width="1.0"/>
<path d="M61.24,382.01 L64.04,387.05 L58.44,387.05 Z" fill="none" stroke="#1010e8" stroke-width="1.0"/>
<path d="M62.05,384.09 L64.85,389.13 L59.25,389.13 Z" fill="none" stroke="#1010e8" stroke-width="1.0"/>
<path d="M62.85,385.99 L65.65,391.03 L60.05,391.03 Z" fill="none" stroke="#1010e8" stroke-width="1.0"/>
<path d="M63.66,385.47 L66.46,390.51 L60.86,390.51 Z" fill="none" stroke="#1010e8" stroke-width="1.0"/>
<path d="M64.47,385.81 L67.27,390.85 L61.67,390.85 Z" fill="none" stroke="#1010e8" stroke-width="1.0"/>
<path d="M65.28,385.51 L68.08,390.55 L62.48,390.55 Z" fill="none" stroke="#1010e8" stroke-width="1.0"/>
<path d="M66.09,386.23 L68.89,391.27 L63.29,391.27 Z" fill="none" stroke="#1010e8" stroke-width="1.0"/>
<path d="M66.90,387.87 L69.70,392.91 L64.10,392.91 Z" fill="none" stroke="#1010e8" stroke-width="1.0"/>
<path d="M67.71,388.02 L70.51,393.06 L64.91,393.06 Z" fill="none" stroke="#1010e8" stroke-width="1.0"/>
<path d="M68.51,388.41 L71.31,393.45 L65.71,393.45 Z" fill="none" stroke="#1010e8" stroke-width="1.0"/>
<path d="M69.32,385.94 L72.12,390.98 L66.52,390.98 Z" fill="none" stroke="#1010e8" stroke-width="1.0"/>
<path d="M70.13,379.15 L72.93,384.19 L67.33,384.19 Z" fill="none" stroke="#1010e8" stroke-width="1.0"/>
<path d="M70.94,379.98 L73.74,385.02 L68.14,385.02 Z" fill="none" stroke="#1010e8" stroke-width="1.0"/>
<path d="M71.75,380.60 L74.55,385.64 L68.95,385.64 Z" fill="none" stroke="#1010e8" stroke-width="1.0"/>
<path d="M72.56,382.92 L75.36,387.96 L69.76,387.96 Z" fill="none" stroke="#1010e8" stroke-width="1.0"/>
<path d="M73.37,382.34 L76.17,387.38 L70.57,387.38 Z" fill="none" stroke="#1010e8" stroke-width="1.0"/>
<path d="M74.17,383.54 L76.97,388.58 L71.37,388.58 Z" fill="none" stroke="#1010e8" stroke-width="1.0"/>
<path d="M74.98,383.69 L77.78,388.73 L72.18,388.73 Z" fill="none" stroke="#1010e8" stroke-width="1.0"/>
<path d="M75.79,385.06 L78.59,390.10 L72.99,390.10 Z" fill="none" stroke="#1010e8" stroke-width="1.0"/>
<path d="M76.60,384.95 L79.40,389.99 L73.80,389.99 Z" fill="none" stroke="#1010e8" stroke-width="1.0"/>
<path d="M77.41,382.94 L80.21,387.98 L74.61,387.98 Z" fill="none" stroke="#1010e8" stroke-width="1.0"/>
<path d="M78.22,384.47 L81.02,389.51 L75.42,389.51 Z" fill="none" stroke="#1010e8" stroke-width="1.0"/>
<path d="M79.02,383.11 L81.82,388.15 L76.22,388.15 Z" fill="none" stroke="#1010e8" stroke-width="1.0"/>
<path d="M79.83,378.24 L82.63,383.28 L77.03,383.28 Z" fill="none" stroke="#1010e8" stroke-width="1.0"/>
<path d="M80.64,378.27 L83.44,383.31 L77.84,383.31 Z" fill="none" stroke="#1010e8" stroke-width="1.0"/>
<path d="M81.45,381.97 L84.25,387.01 L78.65,387.01 Z" fill="none" stroke="#1010e8" stroke-width="1.0"/>
<path d="M82.26,381.41 L85.06,386.45 L79.46,386.45 Z" fill="none" stroke="#1010e8" stroke-width="1.0"/>
<path d="M83.07,384.11 L85.87,389.15 L80.27,389.15 Z" fill="none" stroke="#1010e8" stroke-width="1.0"/>
<path d="M83.88,383.18 L86.68,388.22 L81.08,388.22 Z" fill="none" stroke="#1010e8" stroke-width="1.0"/>
<path d="M84.68,386.37 L87.48,391.41 L81.88,391.41 Z" fill="none" stroke="#1010e8" stroke-width="1.0"/>
<path d="M85.49,386.84 L88.29,391.88 L82.69,391.88 Z" fill="none" stroke="#1010e8" stroke-width="1.0"/>
<path d="M86.30,384.36 L89.10,389.40 L83.50,389.40 Z" fill="none" stroke="#1010e8" stroke-width="1.0"/>
<path d="M87.11,384.15 L89.91,389.19 L84.31,389.19 Z" fill="none" stroke="#1010e8" stroke-width="1.0"/>
<path d="M87.92,384.66 L90.72,389.70 L85.12,389.70 Z" fill="none" stroke="#1010e8" stroke-width="1.0"/>
<path d="M88.73,380.61 L91.53,385.65 L85.93,385.65 Z" fill="none" stroke="#1010e8" stroke-width="1.0"/>
<path d="M89.53,381.13 L92.33,386.17 L86.73,386.17 Z" fill="none" stroke="#1010e8" stroke-width="1.0"/>
<path d="M90.34,380.25 L93.14,385.29 L87.54,385.29 Z" fill="none" stroke="#1010e8" stroke-width="1.0"/>
<path d="M91.15,380.63 L93.95,385.67 L88.35,385.67 Z" fill="none" stroke="#1010e8" stroke-width="1.0"/>
<path d="M91.96,379.93 L94.76,384.97 L89.16,384.97 Z" fill="none" stroke="#1010e8" stroke-width="1.0"/>
<path d="M92.77,381.98 L95.57,387.02 L89.97,387.02 Z" fill="none" stroke="#1010e8" stroke-width="1.0"/>
<path d="M93.58,384.51 L96.38,389.55 L90.78,389.55 Z" fill="none" stroke="#1010e8" stroke-width="1.0"/>
<path d="M94.39,381.84 L97.19,386.88 L91.59,386.88 Z" fill="none" stroke="#1010e8" stroke-width="1.0"/>
<path d="M95.19,384.61 L97.99,389.65 L92.39,389.65 Z" fill="none" stroke="#1010e8" stroke-width="1.0"/>
<path d="M96.00,382.30 L98.80,387.34 L93.20,387.34 Z" fill="none" stroke="#1010e8" stroke-width="1.0"/>
<path d="M96.81,384.60 L99.61,389.64 L94.01,389.64 Z" fill="none" stroke="#1010e8" stroke-width="1.0"/>
<path d="M97.62,385.17 L100.42,390.21 L94.82,390.21 Z" fill="none" stroke="#1010e8" stroke-width="1.0"/>
<path d="M98.43,386.43 L101.23,391.47 L95.63,391.47 Z" fill="none" stroke="#1010e8" stroke-width="1.0"/>
<path d="M99.24,384.93 L102.04,389.97 L96.44,389.97 Z" fill="none" stroke="#1010e8" stroke-width="1.0"/>
<path d="M100.05,386.69 L102.85,391.73 L97.25,391.73 Z" fill="none" stroke="#1010e8" stroke-width="1.0"/>
<path d="M100.85,387.47 L103.65,392.51 L98.05,392.51 Z" fill="none" stroke="#1010e8" stroke-width="1.0"/>
<path d="M101.66,385.48 L104.46,390.52 L98.86,390.52 Z" fill="none" stroke="#1010e8" stroke-width="1.0"/>
<path d="M102.47,382.94 L105.27,387.98 L99.67,387.98 Z" fill="none" stroke="#1010e8" stroke-width="1.0"/>
<path d="M103.28,381.66 L106.08,386.70 L100.48,386.70 Z" fill="none" stroke="#1010e8" stroke-width="1.0"/>
<path d="M104.09,380.57 L106.89,385.61 L101.29,385.61 Z" fill="none" stroke="#1010e8" stroke-width="1.0"/>
<path d="M104.90,382.64 L107.70,387.68 L102.10,387.68 Z" fill="none" stroke="#1010e8" stroke-width="1.0"/>
<path d="M105.71,384.56 L108.51,389.60 L102.91,389.60 Z" fill="none" stroke="#1010e8" stroke-width="1.0"/>
<path d="M106.51,380.96 L109.31,386.00 L103.71,386.00 Z" fill="none" stroke="#1010e8" stroke-width="1.0"/>
<path d="M107.32,381.93 L110.12,386.97 L104.52,386.97 Z" fill="none" stroke="#1010e8" stroke-width="1.0"/>
<path d="M108.13,385.47 L110.93,390.51 L105.33,390.51 Z" fill="none" stroke="#1010e8" stroke-width="1.0"/>
<path d="M108.94,384.20 L111.74,389.24 L106.14,389.24 Z" fill="none" stroke="#1010e8" stroke-width="1.0"/>
<path d="M109.75,384.41 L112.55,389.45 L106.95,389.45 Z" fill="none" stroke="#1010e8" stroke-width="1.0"/>
<path d="M110.56,382.58 L113.36,387.62 L107.76,387.62 Z" fill="none" stroke="#1010e8" stroke-width="1.0"/>
<path d="M111.36,383.30 L114.16,388.34 L108.56,388.34 Z" fill="none" stroke="#1010e8" stroke-width="1.0"/>
<path d="M112.17,384.79 L114.97,389.83 L109.37,389.83 Z" fill="none" stroke="#1010e8" stroke-width="1.0"/>
<path d="M112.98,383.37 L115.78,388.41 L110.18,388.41 Z" fill="none" stroke="#1010e8" stroke-width="1.0"/>
<path d="M113.79,386.08 L116.59,391.12 L110.99,391.12 Z" fill="none" stroke="#1010e8" stroke-width="1.0"/>
<path d="M114.60,387.26 L117.40,392.30 L111.80,392.30 Z" fill="none" stroke="#1010e8" stroke-width="1.0"/>
<path d="M115.41,385.79 L118.21,390.83 L112.61,390.83 Z" fill="none" stroke="#1010e8" stroke-width="1.0"/>
<path d="M116.22,382.32 L119.02,387.36 L113.42,387.36 Z" fill="none" stroke="#1010e8" stroke-width="1.0"/>
<path d="M117.02,379.20 L119.82,384.24 L114.22,384.24 Z" fill="none" stroke="#1010e8" stroke-width="1.0"/>
<path d="M117.83,380.12 L120.63,385.16 L115.03,385.16 Z" fill="none" stroke="#1010e8" stroke-width="1.0"/>
<path d="M118.64,382.74 L121.44,387.78 L115.84,387.78 Z" fill="none" stroke="#1010e8" stroke-width="1.0"/>
<path d="M119.45,381.43 L122.25,386.47 L116.65,386.47 Z" fill="none" stroke="#1010e8" stroke-width="1.0"/>
<path d="M120.26,382.38 L123.06,387.42 L117.46,387.42 Z" fill="none" stroke="#1010e8" stroke-width="1.0"/>
<path d="M121.07,384.14 L123.87,389.18 L118.27,389.18 Z" fill="none" stroke="#1010e8" stroke-width="1.0"/>
<path d="M121.88,382.00 L124.67,387.04 L119.08,387.04 Z" fill="none" stroke="#1010e8" stroke-width="1.0"/>
<path d="M122.68,382.47 L125.48,387.51 L119.88,387.51 Z" fill="none" stroke="#1010e8" stroke-width="1.0"/>
<path d="M123.49,386.08 L126.29,391.12 L120.69,391.12 Z" fill="none" stroke="#1010e8" stroke-width="1.0"/>
<path d="M124.30,386.31 L127.10,391.35 L121.50,391.35 Z" fill="none" stroke="#1010e8" stroke-width="1.0"/>
<path d="M125.11,384.63 L127.91,389.67 L122.31,389.67 Z" fill="none" stroke="#1010e8" stroke-width="1.0"/>
<path d="M125.92,384.98 L128.72,390.02 L123.12,390.02 Z" fill="none" stroke="#1010e8" stroke-width="1.0"/>
<path d="M126.73,387.43 L129.53,392.47 L123.93,392.47 Z" fill="none" stroke="#1010e8" stroke-width="1.0"/>
<path d="M127.53,385.40 L130.33,390.44 L124.73,390.44 Z" fill="none" stroke="#1010e8" stroke-width="1.0"/>
<path d="M128.34,379.59 L131.14,384.63 L125.54,384.63 Z" fill="none" stroke="#1010e8" stroke-width="1.0"/>
<path d="M129.15,378.26 L131.95,383.30 L126.35,383.30 Z" fill="none" stroke="#1010e8" stroke-width="1.0"/>
<path d="M129.96,378.61 L132.76,383.65 L127.16,383.65 Z" fill="none" stroke="#1010e8" stroke-width="1.0"/>
<path d="M130.77,382.92 L133.57,387.96 L127.97,387.96 Z" fill="none" stroke="#1010e8" stroke-width="1.0"/>
<path d="M131.58,380.63 L134.38,385.67 L128.78,385.67 Z" fill="none" stroke="#1010e8" stroke-width="1.0"/>
<path d="M132.39,383.11 L135.19,388.15 L129.59,388.15 Z" fill="none" stroke="#1010e8" stroke-width="1.0"/>
<path d="M133.19,381.93 L135.99,386.97 L130.39,386.97 Z" fill="none" stroke="#1010e8" stroke-width="1.0"/>
<path d="M134.00,384.81 L136.80,389.85 L131.20,389.85 Z" fill="none" stroke="#1010e8" stroke-width="1.0"/>
<path d="M134.81,384.51 L137.61,389.55 L132.01,389.55 Z" fill="none" stroke="#1010e8" stroke-width="1.0"/>
<path d="M135.62,383.91 L138.42,388.95 L132.82,388.95 Z" fill="none" stroke="#1010e8" stroke-width="1.0"/>
<path d="M136.43,384.05 L139.23,389.09 L133.63,389.09 Z" fill="none" stroke="#1010e8" stroke-width="1.0"/>
<path d="M137.24,386.84 L140.04,391.88 L134.44,391.88 Z" fill="none" stroke="#1010e8" stroke-width="1.0"/>
<path d="M138.05,384.85 L140.85,389.89 L135.25,389.89 Z" fill="none" stroke="#1010e8" stroke-width="1.0"/>
<path d="M138.85,386.10 L141.65,391.14 L136.05,391.14 Z" fill="none" stroke="#1010e8" stroke-width="1.0"/>
<path d="M139.66,388.03 L142.46,393.07 L136.86,393.07 Z" fill="none" stroke="#1010e8" stroke-width="1.0"/>
<path d="M140.47,389.77 L143.27,394.81 L137.67,394.81 Z" fill="none" stroke="#1010e8" stroke-width="1.0"/>
<path d="M141.28,386.77 L144.08,391.81 L138.48,391.81 Z" fill="none" stroke="#1010e8" stroke-width="1.0"/>
<path d="M142.09,383.38 L144.89,388.42 L139.29,388.42 Z" fill="none" stroke="#1010e8" stroke-width="1.0"/>
<path d="M142.90,383.88 L145.70,388.92 L140.10,388.92 Z" fill="none" stroke="#1010e8" stroke-width="1.0"/>
<path d="M143.70,378.42 L146.50,383.46 L140.90,383.46 Z" fill="none" stroke="#1010e8" stroke-width="1.0"/>
<path d="M144.51,378.35 L147.31,383.39 L141.71,383.39 Z" fill="none" stroke="#1010e8" stroke-width="1.0"/>
<path d="M145.32,380.03 L148.12,385.07 L142.52,385.07 Z" fill="none" stroke="#1010e8" stroke-width="1.0"/>
<path d="M146.13,381.77 L148.93,386.81 L143.33,386.81 Z" fill="none" stroke="#1010e8" stroke-width="1.0"/>
<path d="M146.94,384.28 L149.74,389.32 L144.14,389.32 Z" fill="none" stroke="#1010e8" stroke-width="1.0"/>
<path d="M147.75,381.49 L150.55,386.53 L144.95,386.53 Z" fill="none" stroke="#1010e8" stroke-width="1.0"/>
<path d="M148.56,382.42 L151.36,387.46 L145.76,387.46 Z" fill="none" stroke="#1010e8" stroke-width="1.0"/>
<path d="M149.36,384.40 L152.16,389.44 L146.56,389.44 Z" fill="none" stroke="#1010e8" stroke-width="1.0"/>
<path d="M150.17,384.66 L152.97,389.70 L147.37,389.70 Z" fill="none" stroke="#1010e8" stroke-width="1.0"/>
<path d="M150.98,387.01 L153.78,392.05 L148.18,392.05 Z" fill="none" stroke="#1010e8" stroke-width="1.0"/>
<path d="M151.79,386.91 L154.59,391.95 L148.99,391.95 Z" fill="none" stroke="#1010e8" stroke-width="1.0"/>
<path d="M152.60,389.34 L155.40,394.38 L149.80,394.38 Z" fill="none" stroke="#1010e8" stroke-width="1.0"/>
<path d="M153.41,385.84 L156.21,390.88 L150.61,390.88 Z" fill="none" stroke="#1010e8" stroke-width="1.0"/>
<path d="M154.22,384.83 L157.02,389.87 L151.41,389.87 Z" fill="none" stroke="#1010e8" stroke-width="1.0"/>
<path d="M155.02,380.69 L157.82,385.73 L152.22,385.73 Z" fill="none" stroke="#1010e8" stroke-width="1.0"/>
<path d="M155.83,382.49 L158.63,387.53 L153.03,387.53 Z" fill="none" stroke="#1010e8" stroke-width="1.0"/>
<path d="M156.64,382.57 L159.44,387.61 L153.84,387.61 Z" fill="none" stroke="#1010e8" stroke-width="1.0"/>
<path d="M157.45,384.26 L160.25,389.30 L154.65,389.30 Z" fill="none" stroke="#1010e8" stroke-width="1.0"/>
<path d="M158.26,383.32 L161.06,388.36 L155.46,388.36 Z" fill="none" stroke="#1010e8" stroke-width="1.0"/>
<path d="M159.07,386.74 L161.87,391.78 L156.27,391.78 Z" fill="none" stroke="#1010e8" stroke-width="1.0"/>
<path d="M159.87,383.74 L162.67,388.78 L157.07,388.78 Z" fill="none" stroke="#1010e8" stroke-width="1.0"/>
<path d="M160.68,386.33 L163.48,391.37 L157.88,391.37 Z" fill="none" stroke="#1010e8" stroke-width="1.0"/>
<path d="M161.49,387.79 L164.29,392.83 L158.69,392.83 Z" fill="none" stroke="#1010e8" stroke-width="1.0"/>
<path d="M162.30,389.14 L165.10,394.18 L159.50,394.18 Z" fill="none" stroke="#1010e8" stroke-width="1.0"/>
<path d="M163.11,389.19 L165.91,394.23 L160.31,394.23 Z" fill="none" stroke="#1010e8" stroke-width="1.0"/>
<path d="M163.92,389.76 L166.72,394.80 L161.12,394.80 Z" fill="none" stroke="#1010e8" stroke-width="1.0"/>
<path d="M164.73,390.81 L167.53,395.85 L161.93,395.85 Z" fill="none" stroke="#1010e8" stroke-width="1.0"/>
<path d="M165.53,390.81 L168.33,395.85 L162.73,395.85 Z" fill="none" stroke="#1010e8" stroke-width="1.0"/>
<path d="M166.34,387.33 L169.14,392.37 L163.54,392.37 Z" fill="none" stroke="#1010e8" stroke-width="1.0"/>
<path d="M167.15,387.45 L169.95,392.49 L164.35,392.49 Z" fill="none" stroke="#1010e8" stroke-width="1.0"/>
<path d="M167.96,387.09 L170.76,392.13 L165.16,392.13 Z" fill="none" stroke="#1010e8" stroke-width="1.0"/>
<path d="M168.77,385.75 L171.57,390.79 L165.97,390.79 Z" fill="none" stroke="#1010e8" stroke-width="1.0"/>
<path d="M169.58,382.72 L172.38,387.76 L166.78,387.76 Z" fill="none" stroke="#1010e8" stroke-width="1.0"/>
<path d="M170.38,381.01 L173.19,386.05 L167.58,386.05 Z" fill="none" stroke="#1010e8" stroke-width="1.0"/>
<path d="M171.19,382.81 L173.99,387.85 L168.39,387.85 Z" fill="none" stroke="#1010e8" stroke-width="1.0"/>
<path d="M172.00,383.92 L174.80,388.96 L169.20,388.96 Z" fill="none" stroke="#1010e8" stroke-width="1.0"/>
<path d="M172.81,382.81 L175.61,387.85 L170.01,387.85 Z" fill="none" stroke="#1010e8" stroke-width="1.0"/>
<path d="M173.62,386.05 L176.42,391.09 L170.82,391.09 Z" fill="none" stroke="#1010e8" stroke-width="1.0"/>
<path d="M174.43,388.46 L177.23,393.50 L171.63,393.50 Z" fill="none" stroke="#1010e8" stroke-width="1.0"/>
<path d="M175.24,389.01 L178.04,394.05 L172.44,394.05 Z" fill="none" stroke="#1010e8" stroke-width="1.0"/>
<path d="M176.04,389.41 L178.84,394.45 L173.24,394.45 Z" fill="none" stroke="#1010e8" stroke-width="1.0"/>
<path d="M176.85,389.05 L179.65,394.09 L174.05,394.09 Z" fill="none" stroke="#1010e8" stroke-width="1.0"/>
<path d="M177.66,389.39 L180.46,394.43 L174.86,394.43 Z" fill="none" stroke="#1010e8" stroke-width="1.0"/>
<path d="M178.47,383.86 L181.27,388.90 L175.67,388.90 Z" fill="none" stroke="#1010e8" stroke-width="1.0"/>
<path d="M179.28,382.92 L182.08,387.96 L176.48,387.96 Z" fill="none" stroke="#1010e8" stroke-width="1.0"/>
<path d="M180.09,382.55 L182.89,387.59 L177.29,387.59 Z" fill="none" stroke="#1010e8" stroke-width="1.0"/>
<path d="M180.90,382.11 L183.70,387.15 L178.10,387.15 Z" fill="none" stroke="#1010e8" stroke-width="1.0"/>
<path d="M181.70,382.29 L184.50,387.33 L178.90,387.33 Z" fill="none" stroke="#1010e8" stroke-width="1.0"/>
<path d="M182.51,386.48 L185.31,391.52 L179.71,391.52 Z" fill="none" stroke="#1010e8" stroke-width="1.0"/>
<path d="M183.32,383.55 L186.12,388.59 L180.52,388.59 Z" fill="none" stroke="#1010e8" stroke-width="1.0"/>
<path d="M184.13,386.66 L186.93,391.70 L181.33,391.70 Z" fill="none" stroke="#1010e8" stroke-width="1.0"/>
<path d="M184.94,386.63 L187.74,391.67 L182.14,391.67 Z" fill="none" stroke="#1010e8" stroke-width="1.0"/>
<path d="M185.75,386.38 L188.55,391.42 L182.95,391.42 Z" fill="none" stroke="#1010e8" stroke-width="1.0"/>
<path d="M186.56,388.46 L189.36,393.50 L183.75,393.50 Z" fill="none" stroke="#1010e8" stroke-width="1.0"/>
<path d="M187.36,386.80 L190.16,391.84 L184.56,391.84 Z" fill="none" stroke="#1010e8" stroke-width="1.0"/>
<path d="M188.17,386.34 L190.97,391.38 L185.37,391.38 Z" fill="none" stroke="#1010e8" stroke-width="1.0"/>
<path d="M188.98,388.66 L191.78,393.70 L186.18,393.70 Z" fill="none" stroke="#1010e8" stroke-width="1.0"/>
<path d="M189.79,388.73 L192.59,393.77 L186.99,393.77 Z" fill="none" stroke="#1010e8" stroke-width="1.0"/>
<path d="M190.60,390.13 L193.40,395.17 L187.80,395.17 Z" fill="none" stroke="#1010e8" stroke-width="1.0"/>
<path d="M191.41,388.94 L194.21,393.98 L188.61,393.98 Z" fill="none" stroke="#1010e8" stroke-width="1.0"/>
<path d="M192.21,390.86 L195.01,395.90 L189.41,395.90 Z" fill="none" stroke="#1010e8" stroke-width="1.0"/>
<path d="M193.02,387.50 L195.82,392.54 L190.22,392.54 Z" fill="none" stroke="#1010e8" stroke-width="1.0"/>
<path d="M193.83,384.84 L196.63,389.88 L191.03,389.88 Z" fill="none" stroke="#1010e8" stroke-width="1.0"/>
<path d="M194.64,383.86 L197.44,388.90 L191.84,388.90 Z" fill="none" stroke="#1010e8" stroke-width="1.0"/>
<path d="M195.45,385.83 L198.25,390.87 L192.65,390.87 Z" fill="none" stroke="#1010e8" stroke-width="1.0"/>
<path d="M196.26,386.10 L199.06,391.14 L193.46,391.14 Z" fill="none" stroke="#1010e8" stroke-width="1.0"/>
<path d="M197.07,384.53 L199.87,389.57 L194.27,389.57 Z" fill="none" stroke="#1010e8" stroke-width="1.0"/>
<path d="M197.87,385.74 L200.67,390.78 L195.07,390.78 Z" fill="none" stroke="#1010e8" stroke-width="1.0"/>
<path d="M198.68,385.09 L201.48,390.13 L195.88,390.13 Z" fill="none" stroke="#1010e8" stroke-width="1.0"/>
<path d="M199.49,384.78 L202.29,389.82 L196.69,389.82 Z" fill="none" stroke="#1010e8" stroke-width="1.0"/>
<path d="M200.30,386.64 L203.10,391.68 L197.50,391.68 Z" fill="none" stroke="#1010e8" stroke-width="1.0"/>
<path d="M201.11,388.41 L203.91,393.45 L198.31,393.45 Z" fill="none" stroke="#1010e8" stroke-width="1.0"/>
<path d="M201.92,388.87 L204.72,393.91 L199.12,393.91 Z" fill="none" stroke="#1010e8" stroke-width="1.0"/>
<path d="M202.73,388.74 L205.53,393.78 L199.93,393.78 Z" fill="none" stroke="#1010e8" stroke-width="1.0"/>
<path d="M203.53,390.10 L206.33,395.14 L200.73,395.14 Z" fill="none" stroke="#1010e8" stroke-width="1.0"/>
<path d="M204.34,387.83 L207.14,392.87 L201.54,392.87 Z" fill="none" stroke="#1010e8" stroke-width="1.0"/>
<path d="M205.15,387.81 L207.95,392.85 L202.35,392.85 Z" fill="none" stroke="#1010e8" stroke-width="1.0"/>
<path d="M205.96,389.35 L208.76,394.39 L203.16,394.39 Z" fill="none" stroke="#1010e8" stroke-width="1.0"/>
<path d="M206.77,387.96 L209.57,393.00 L203.97,393.00 Z" fill="none" stroke="#1010e8" stroke-width="1.0"/>
<path d="M207.58,384.76 L210.38,389.80 L204.78,389.80 Z" fill="none" stroke="#1010e8" stroke-width="1.0"/>
<path d="M208.38,385.53 L211.18,390.57 L205.58,390.57 Z" fill="none" stroke="#1010e8" stroke-width="1.0"/>
<path d="M209.19,386.45 L211.99,391.49 L206.39,391.49 Z" fill="none" stroke="#1010e8" stroke-width="1.0"/>
<path d="M210.00,386.00 L212.80,391.04 L207.20,391.04 Z" fill="none" stroke="#1010e8" stroke-width="1.0"/>
<path d="M210.81,385.21 L213.61,390.25 L208.01,390.25 Z" fill="none" stroke="#1010e8" stroke-width="1.0"/>
<path d="M211.62,387.66 L214.42,392.70 L208.82,392.70 Z" fill="none" stroke="#1010e8" stroke-width="1.0"/>
<path d="M212.43,385.88 L215.23,390.92 L209.63,390.92 Z" fill="none" stroke="#1010e8" stroke-width="1.0"/>
<path d="M213.24,387.62 L216.04,392.66 L210.44,392.66 Z" fill="none" stroke="#1010e8" stroke-width="1.0"/>
<path d="M214.04,388.32 L216.84,393.36 L211.24,393.36 Z" fill="none" stroke="#1010e8" stroke-width="1.0"/>
<path d="M214.85,387.15 L217.65,392.19 L212.05,392.19 Z" fill="none" stroke="#1010e8" stroke-width="1.0"/>
<path d="M215.66,387.86 L218.46,392.90 L212.86,392.90 Z" fill="none" stroke="#1010e8" stroke-width="1.0"/>
<path d="M54.77,391.13 L57.67,385.91 L51.87,385.91 Z" fill="none" stroke="#ff30ff" stroke-width="1.0"/>
<path d="M55.58,399.13 L58.48,393.91 L52.68,393.91 Z" fill="none" stroke="#ff30ff" stroke-width="1.0"/>
<path d="M56.39,388.93 L59.29,383.71 L53.49,383.71 Z" fill="none" stroke="#ff30ff" stroke-width="1.0"/>
<path d="M57.20,391.83 L60.09,386.61 L54.30,386.61 Z" fill="none" stroke="#ff30ff" stroke-width="1.0"/>
<path d="M58.00,394.93 L60.90,389.71 L55.10,389.71 Z" fill="none" stroke="#ff30ff" stroke-width="1.0"/>
<path d="M58.81,394.17 L61.71,388.95 L55.91,388.95 Z" fill="none" stroke="#ff30ff" stroke-width="1.0"/>
<path d="M59.62,396.14 L62.52,390.92 L56.72,390.92 Z" fill="none" stroke="#ff30ff" stroke-width="1.0"/>
<path d="M60.43,392.91 L63.33,387.69 L57.53,387.69 Z" fill="none" stroke="#ff30ff" stroke-width="1.0"/>
<path d="M61.24,395.41 L64.14,390.19 L58.34,390.19 Z" fill="none" stroke="#ff30ff" stroke-width="1.0"/>
<path d="M62.05,395.01 L64.95,389.79 L59.15,389.79 Z" fill="none" stroke="#ff30ff" stroke-width="1.0"/>
<path d="M62.85,397.21 L65.75,391.99 L59.95,391.99 Z" fill="none" stroke="#ff30ff" stroke-width="1.0"/>
<path d="M63.66,398.08 L66.56,392.86 L60.76,392.86 Z" fill="none" stroke="#ff30ff" stroke-width="1.0"/>
<path d="M64.47,395.99 L67.37,390.77 L61.57,390.77 Z" fill="none" stroke="#ff30ff" stroke-width="1.0"/>
<path d="M65.28,397.72 L68.18,392.50 L62.38,392.50 Z" fill="none" stroke="#ff30ff" stroke-width="1.0"/>
<path d="M66.09,398.75 L68.99,393.53 L63.19,393.53 Z" fill="none" stroke="#ff30ff" stroke-width="1.0"/>
<path d="M66.90,402.65 L69.80,397.43 L64.00,397.43 Z" fill="none" stroke="#ff30ff" stroke-width="1.0"/>
<path d="M67.71,402.61 L70.61,397.39 L64.81,397.39 Z" fill="none" stroke="#ff30ff" stroke-width="1.0"/>
<path d="M68.51,397.13 L71.41,391.91 L65.61,391.91 Z" fill="none" stroke="#ff30ff" stroke-width="1.0"/>
<path d="M69.32,394.98 L72.22,389.76 L66.42,389.76 Z" fill="none" stroke="#ff30ff" stroke-width="1.0"/>
<path d="M70.13,391.90 L73.03,386.68 L67.23,386.68 Z" fill="none" stroke="#ff30ff" stroke-width="1.0"/>
<path d="M70.94,388.16 L73.84,382.94 L68.04,382.94 Z" fill="none" stroke="#ff30ff" stroke-width="1.0"/>
<path d="M71.75,393.09 L74.65,387.87 L68.85,387.87 Z" fill="none" stroke="#ff30ff" stroke-width="1.0"/>
<path d="M72.56,395.11 L75.46,389.89 L69.66,389.89 Z" fill="none" stroke="#ff30ff" stroke-width="1.0"/>
<path d="M73.37,392.22 L76.27,387.00 L70.47,387.00 Z" fill="none" stroke="#ff30ff" stroke-width="1.0"/>
<path d="M74.17,393.32 L77.07,388.10 L71.27,388.10 Z" fill="none" stroke="#ff30ff" stroke-width="1.0"/>
<path d="M74.98,395.14 L77.88,389.92 L72.08,389.92 Z" fill="none" stroke="#ff30ff" stroke-width="1.0"/>
<path d="M75.79,395.65 L78.69,390.43 L72.89,390.43 Z" fill="none" stroke="#ff30ff" stroke-width="1.0"/>
<path d="M76.60,400.13 L79.50,394.91 L73.70,394.91 Z" fill="none" stroke="#ff30ff" stroke-width="1.0"/>
<path d="M77.41,399.97 L80.31,394.75 L74.51,394.75 Z" fill="none" stroke="#ff30ff" stroke-width="1.0"/>
<path d="M78.22,398.83 L81.12,393.61 L75.32,393.61 Z" fill="none" stroke="#ff30ff" stroke-width="1.0"/>
<path d="M79.02,401.56 L81.92,396.34 L76.12,396.34 Z" fill="none" stroke="#ff30ff" stroke-width="1.0"/>
<path d="M79.83,395.78 L82.73,390.56 L76.93,390.56 Z" fill="none" stroke="#ff30ff" stroke-width="1.0"/>
<path d="M80.64,397.70 L83.54,392.48 L77.74,392.48 Z" fill="none" stroke="#ff30ff" stroke-width="1.0"/>
<path d="M81.45,392.87 L84.35,387.65 L78.55,387.65 Z" fill="none" stroke="#ff30ff" stroke-width="1.0"/>
<path d="M82.26,389.15 L85.16,383.93 L79.36,383.93 Z" fill="none" stroke="#ff30ff" stroke-width="1.0"/>
<path d="M83.07,389.16 L85.97,383.94 L80.17,383.94 Z" fill="none" stroke="#ff30ff" stroke-width="1.0"/>
<path d="M83.88,391.32 L86.78,386.10 L80.98,386.10 Z" fill="none" stroke="#ff30ff" stroke-width="1.0"/>
<path d="M84.68,388.98 L87.58,383.76 L81.78,383.76 Z" fill="none" stroke="#ff30ff" stroke-width="1.0"/>
<path d="M85.49,393.00 L88.39,387.78 L82.59,387.78 Z" fill="none" stroke="#ff30ff" stroke-width="1.0"/>
<path d="M86.30,391.95 L89.20,386.73 L83.40,386.73 Z" fill="none" stroke="#ff30ff" stroke-width="1.0"/>
<path d="M87.11,392.47 L90.01,387.25 L84.21,387.25 Z" fill="none" stroke="#ff30ff" stroke-width="1.0"/>
<path d="M87.92,395.66 L90.82,390.44 L85.02,390.44 Z" fill="none" stroke="#ff30ff" stroke-width="1.0"/>
<path d="M88.73,394.63 L91.63,389.41 L85.83,389.41 Z" fill="none" stroke="#ff30ff" stroke-width="1.0"/>
<path d="M89.53,394.45 L92.44,389.23 L86.63,389.23 Z" fill="none" stroke="#ff30ff" stroke-width="1.0"/>
<path d="M90.34,395.93 L93.24,390.71 L87.44,390.71 Z" fill="none" stroke="#ff30ff" stroke-width="1.0"/>
<path d="M91.15,397.70 L94.05,392.48 L88.25,392.48 Z" fill="none" stroke="#ff30ff" stroke-width="1.0"/>
<path d="M91.96,395.12 L94.86,389.90 L89.06,389.90 Z" fill="none" stroke="#ff30ff" stroke-width="1.0"/>
<path d="M92.77,400.36 L95.67,395.14 L89.87,395.14 Z" fill="none" stroke="#ff30ff" stroke-width="1.0"/>
<path d="M93.58,396.25 L96.48,391.03 L90.68,391.03 Z" fill="none" stroke="#ff30ff" stroke-width="1.0"/>
<path d="M94.39,399.91 L97.29,394.69 L91.49,394.69 Z" fill="none" stroke="#ff30ff" stroke-width="1.0"/>
<path d="M95.19,399.34 L98.09,394.12 L92.29,394.12 Z" fill="none" stroke="#ff30ff" stroke-width="1.0"/>
<path d="M96.00,394.15 L98.90,388.93 L93.10,388.93 Z" fill="none" stroke="#ff30ff" stroke-width="1.0"/>
<path d="M96.81,396.95 L99.71,391.73 L93.91,391.73 Z" fill="none" stroke="#ff30ff" stroke-width="1.0"/>
<path d="M97.62,393.79 L100.52,388.57 L94.72,388.57 Z" fill="none" stroke="#ff30ff" stroke-width="1.0"/>
<path d="M98.43,393.81 L101.33,388.59 L95.53,388.59 Z" fill="none" stroke="#ff30ff" stroke-width="1.0"/>
<path d="M99.24,389.91 L102.14,384.69 L96.34,384.69 Z" fill="none" stroke="#ff30ff" stroke-width="1.0"/>
<path d="M100.05,389.05 L102.95,383.83 L97.15,383.83 Z" fill="none" stroke="#ff30ff" stroke-width="1.0"/>
<path d="M100.85,389.47 L103.75,384.25 L97.95,384.25 Z" fill="none" stroke="#ff30ff" stroke-width="1.0"/>
<path d="M101.66,393.37 L104.56,388.15 L98.76,388.15 Z" fill="none" stroke="#ff30ff" stroke-width="1.0"/>
<path d="M102.47,392.62 L105.37,387.40 L99.57,387.40 Z" fill="none" stroke="#ff30ff" stroke-width="1.0"/>
<path d="M103.28,393.90 L106.18,388.68 L100.38,388.68 Z" fill="none" stroke="#ff30ff" stroke-width="1.0"/>
<path d="M104.09,396.84 L106.99,391.62 L101.19,391.62 Z" fill="none" stroke="#ff30ff" stroke-width="1.0"/>
<path d="M104.90,394.66 L107.80,389.44 L102.00,389.44 Z" fill="none" stroke="#ff30ff" stroke-width="1.0"/>
<path d="M105.71,396.75 L108.61,391.53 L102.81,391.53 Z" fill="none" stroke="#ff30ff" stroke-width="1.0"/>
<path d="M106.51,398.42 L109.41,393.20 L103.61,393.20 Z" fill="none" stroke="#ff30ff" stroke-width="1.0"/>
<path d="M107.32,400.41 L110.22,395.19 L104.42,395.19 Z" fill="none" stroke="#ff30ff" stroke-width="1.0"/>
<path d="M108.13,399.38 L111.03,394.16 L105.23,394.16 Z" fill="none" stroke="#ff30ff" stroke-width="1.0"/>
<path d="M108.94,400.05 L111.84,394.83 L106.04,394.83 Z" fill="none" stroke="#ff30ff" stroke-width="1.0"/>
<path d="M109.75,401.23 L112.65,396.01 L106.85,396.01 Z" fill="none" stroke="#ff30ff" stroke-width="1.0"/>
<path d="M110.56,402.17 L113.46,396.95 L107.66,396.95 Z" fill="none" stroke="#ff30ff" stroke-width="1.0"/>
<path d="M111.36,396.53 L114.26,391.31 L108.46,391.31 Z" fill="none" stroke="#ff30ff" stroke-width="1.0"/>
<path d="M112.17,396.26 L115.07,391.04 L109.27,391.04 Z" fill="none" stroke="#ff30ff" stroke-width="1.0"/>
<path d="M112.98,393.72 L115.88,388.50 L110.08,388.50 Z" fill="none" stroke="#ff30ff" stroke-width="1.0"/>
<path d="M113.79,390.85 L116.69,385.63 L110.89,385.63 Z" fill="none" stroke="#ff30ff" stroke-width="1.0"/>
<path d="M114.60,388.34 L117.50,383.12 L111.70,383.12 Z" fill="none" stroke="#ff30ff" stroke-width="1.0"/>
<path d="M115.41,388.60 L118.31,383.38 L112.51,383.38 Z" fill="none" stroke="#ff30ff" stroke-width="1.0"/>
<path d="M116.22,389.07 L119.12,383.85 L113.32,383.85 Z" fill="none" stroke="#ff30ff" stroke-width="1.0"/>
<path d="M117.02,390.39 L119.92,385.17 L114.12,385.17 Z" fill="none" stroke="#ff30ff" stroke-width="1.0"/>
<path d="M117.83,394.05 L120.73,388.83 L114.93,388.83 Z" fill="none" stroke="#ff30ff" stroke-width="1.0"/>
<path d="M118.64,396.55 L121.54,391.33 L115.74,391.33 Z" fill="none" stroke="#ff30ff" stroke-width="1.0"/>
<path d="M119.45,393.34 L122.35,388.12 L116.55,388.12 Z" fill="none" stroke="#ff30ff" stroke-width="1.0"/>
<path d="M120.26,393.73 L123.16,388.51 L117.36,388.51 Z" fill="none" stroke="#ff30ff" stroke-width="1.0"/>
<path d="M121.07,399.39 L123.97,394.17 L118.17,394.17 Z" fill="none" stroke="#ff30ff" stroke-width="1.0"/>
<path d="M121.88,398.08 L124.78,392.86 L118.97,392.86 Z" fill="none" stroke="#ff30ff" stroke-width="1.0"/>
<path d="M122.68,398.41 L125.58,393.19 L119.78,393.19 Z" fill="none" stroke="#ff30ff" stroke-width="1.0"/>
<path d="M123.49,398.53 L126.39,393.31 L120.59,393.31 Z" fill="none" stroke="#ff30ff" stroke-width="1.0"/>
<path d="M124.30,401.27 L127.20,396.05 L121.40,396.05 Z" fill="none" stroke="#ff30ff" stroke-width="1.0"/>
<path d="M125.11,403.40 L128.01,398.18 L122.21,398.18 Z" fill="none" stroke="#ff30ff" stroke-width="1.0"/>
<path d="M125.92,399.95 L128.82,394.73 L123.02,394.73 Z" fill="none" stroke="#ff30ff" stroke-width="1.0"/>
<path d="M126.73,397.61 L129.63,392.39 L123.83,392.39 Z" fill="none" stroke="#ff30ff" stroke-width="1.0"/>
<path d="M127.53,393.62 L130.43,388.40 L124.63,388.40 Z" fill="none" stroke="#ff30ff" stroke-width="1.0"/>
<path d="M128.34,395.76 L131.24,390.54 L125.44,390.54 Z" fill="none" stroke="#ff30ff" stroke-width="1.0"/>
<path d="M129.15,389.18 L132.05,383.96 L126.25,383.96 Z" fill="none" stroke="#ff30ff" stroke-width="1.0"/>
<path d="M129.96,390.47 L132.86,385.25 L127.06,385.25 Z" fill="none" stroke="#ff30ff" stroke-width="1.0"/>
<path d="M130.77,388.77 L133.67,383.55 L127.87,383.55 Z" fill="none" stroke="#ff30ff" stroke-width="1.0"/>
<path d="M131.58,393.05 L134.48,387.83 L128.68,387.83 Z" fill="none" stroke="#ff30ff" stroke-width="1.0"/>
<path d="M132.39,391.10 L135.29,385.88 L129.49,385.88 Z" fill="none" stroke="#ff30ff" stroke-width="1.0"/>
<path d="M133.19,390.34 L136.09,385.12 L130.29,385.12 Z" fill="none" stroke="#ff30ff" stroke-width="1.0"/>
<path d="M134.00,391.82 L136.90,386.60 L131.10,386.60 Z" fill="none" stroke="#ff30ff" stroke-width="1.0"/>
<path d="M134.81,390.71 L137.71,385.49 L131.91,385.49 Z" fill="none" stroke="#ff30ff" stroke-width="1.0"/>
<path d="M135.62,392.98 L138.52,387.76 L132.72,387.76 Z" fill="none" stroke="#ff30ff" stroke-width="1.0"/>
<path d="M136.43,392.05 L139.33,386.83 L133.53,386.83 Z" fill="none" stroke="#ff30ff" stroke-width="1.0"/>
<path d="M137.24,396.42 L140.14,391.20 L134.34,391.20 Z" fill="none" stroke="#ff30ff" stroke-width="1.0"/>
<path d="M138.05,395.37 L140.95,390.15 L135.15,390.15 Z" fill="none" stroke="#ff30ff" stroke-width="1.0"/>
<path d="M138.85,393.58 L141.75,388.36 L135.95,388.36 Z" fill="none" stroke="#ff30ff" stroke-width="1.0"/>
<path d="M139.66,395.80 L142.56,390.58 L136.76,390.58 Z" fill="none" stroke="#ff30ff" stroke-width="1.0"/>
<path d="M140.47,398.47 L143.37,393.25 L137.57,393.25 Z" fill="none" stroke="#ff30ff" stroke-width="1.0"/>
<path d="M141.28,397.62 L144.18,392.40 L138.38,392.40 Z" fill="none" stroke="#ff30ff" stroke-width="1.0"/>
<path d="M142.09,396.26 L144.99,391.04 L139.19,391.04 Z" fill="none" stroke="#ff30ff" stroke-width="1.0"/>
<path d="M142.90,396.54 L145.80,391.32 L140.00,391.32 Z" fill="none" stroke="#ff30ff" stroke-width="1.0"/>
<path d="M143.70,398.01 L146.60,392.79 L140.80,392.79 Z" fill="none" stroke="#ff30ff" stroke-width="1.0"/>
<path d="M144.51,400.67 L147.41,395.45 L141.61,395.45 Z" fill="none" stroke="#ff30ff" stroke-width="1.0"/>
<path d="M145.32,397.22 L148.22,392.00 L142.42,392.00 Z" fill="none" stroke="#ff30ff" stroke-width="1.0"/>
<path d="M146.13,401.27 L149.03,396.05 L143.23,396.05 Z" fill="none" stroke="#ff30ff" stroke-width="1.0"/>
<path d="M146.94,400.31 L149.84,395.09 L144.04,395.09 Z" fill="none" stroke="#ff30ff" stroke-width="1.0"/>
<path d="M147.75,395.44 L150.65,390.22 L144.85,390.22 Z" fill="none" stroke="#ff30ff" stroke-width="1.0"/>
<path d="M148.56,395.40 L151.46,390.18 L145.66,390.18 Z" fill="none" stroke="#ff30ff" stroke-width="1.0"/>
<path d="M149.36,391.87 L152.26,386.65 L146.46,386.65 Z" fill="none" stroke="#ff30ff" stroke-width="1.0"/>
<path d="M150.17,392.27 L153.07,387.05 L147.27,387.05 Z" fill="none" stroke="#ff30ff" stroke-width="1.0"/>
<path d="M150.98,390.69 L153.88,385.47 L148.08,385.47 Z" fill="none" stroke="#ff30ff" stroke-width="1.0"/>
<path d="M151.79,394.97 L154.69,389.75 L148.89,389.75 Z" fill="none" stroke="#ff30ff" stroke-width="1.0"/>
<path d="M152.60,393.39 L155.50,388.17 L149.70,388.17 Z" fill="none" stroke="#ff30ff" stroke-width="1.0"/>
<path d="M153.41,395.17 L156.31,389.95 L150.51,389.95 Z" fill="none" stroke="#ff30ff" stroke-width="1.0"/>
<path d="M154.22,393.03 L157.12,387.81 L151.31,387.81 Z" fill="none" stroke="#ff30ff" stroke-width="1.0"/>
<path d="M155.02,395.01 L157.92,389.79 L152.12,389.79 Z" fill="none" stroke="#ff30ff" stroke-width="1.0"/>
<path d="M155.83,396.89 L158.73,391.67 L152.93,391.67 Z" fill="none" stroke="#ff30ff" stroke-width="1.0"/>
<path d="M156.64,398.06 L159.54,392.84 L153.74,392.84 Z" fill="none" stroke="#ff30ff" stroke-width="1.0"/>
<path d="M157.45,399.52 L160.35,394.30 L154.55,394.30 Z" fill="none" stroke="#ff30ff" stroke-width="1.0"/>
<path d="M158.26,397.28 L161.16,392.06 L155.36,392.06 Z" fill="none" stroke="#ff30ff" stroke-width="1.0"/>
<path d="M159.07,401.48 L161.97,396.26 L156.17,396.26 Z" fill="none" stroke="#ff30ff" stroke-width="1.0"/>
<path d="M159.87,400.78 L162.77,395.56 L156.97,395.56 Z" fill="none" stroke="#ff30ff" stroke-width="1.0"/>
<path d="M160.68,402.61 L163.58,397.39 L157.78,397.39 Z" fill="none" stroke="#ff30ff" stroke-width="1.0"/>
<path d="M161.49,400.14 L164.39,394.92 L158.59,394.92 Z" fill="none" stroke="#ff30ff" stroke-width="1.0"/>
<path d="M162.30,398.40 L165.20,393.18 L159.40,393.18 Z" fill="none" stroke="#ff30ff" stroke-width="1.0"/>
<path d="M163.11,400.02 L166.01,394.80 L160.21,394.80 Z" fill="none" stroke="#ff30ff" stroke-width="1.0"/>
<path d="M163.92,396.39 L166.82,391.17 L161.02,391.17 Z" fill="none" stroke="#ff30ff" stroke-width="1.0"/>
<path d="M164.73,396.15 L167.63,390.93 L161.83,390.93 Z" fill="none" stroke="#ff30ff" stroke-width="1.0"/>
<path d="M165.53,392.17 L168.43,386.95 L162.63,386.95 Z" fill="none" stroke="#ff30ff" stroke-width="1.0"/>
<path d="M166.34,393.91 L169.24,388.69 L163.44,388.69 Z" fill="none" stroke="#ff30ff" stroke-width="1.0"/>
<path d="M167.15,392.39 L170.05,387.17 L164.25,387.17 Z" fill="none" stroke="#ff30ff" stroke-width="1.0"/>
<path d="M167.96,394.59 L170.86,389.37 L165.06,389.37 Z" fill="none" stroke="#ff30ff" stroke-width="1.0"/>
<path d="M168.77,395.79 L171.67,390.57 L165.87,390.57 Z" fill="none" stroke="#ff30ff" stroke-width="1.0"/>
<path d="M169.58,396.96 L172.48,391.74 L166.68,391.74 Z" fill="none" stroke="#ff30ff" stroke-width="1.0"/>
<path d="M170.38,395.30 L173.28,390.08 L167.48,390.08 Z" fill="none" stroke="#ff30ff" stroke-width="1.0"/>
<path d="M171.19,398.48 L174.09,393.26 L168.29,393.26 Z" fill="none" stroke="#ff30ff" stroke-width="1.0"/>
<path d="M172.00,399.34 L174.90,394.12 L169.10,394.12 Z" fill="none" stroke="#ff30ff" stroke-width="1.0"/>
<path d="M172.81,399.16 L175.71,393.94 L169.91,393.94 Z" fill="none" stroke="#ff30ff" stroke-width="1.0"/>
<path d="M173.62,401.32 L176.52,396.10 L170.72,396.10 Z" fill="none" stroke="#ff30ff" stroke-width="1.0"/>
<path d="M174.43,401.95 L177.33,396.73 L171.53,396.73 Z" fill="none" stroke="#ff30ff" stroke-width="1.0"/>
<path d="M175.24,400.48 L178.14,395.26 L172.34,395.26 Z" fill="none" stroke="#ff30ff" stroke-width="1.0"/>
<path d="M176.04,401.26 L178.94,396.04 L173.14,396.04 Z" fill="none" stroke="#ff30ff" stroke-width="1.0"/>
<path d="M176.85,400.17 L179.75,394.95 L173.95,394.95 Z" fill="none" stroke="#ff30ff" stroke-width="1.0"/>
<path d="M177.66,404.24 L180.56,399.02 L174.76,399.02 Z" fill="none" stroke="#ff30ff" stroke-width="1.0"/>
<path d="M178.47,405.47 L181.37,400.25 L175.57,400.25 Z" fill="none" stroke="#ff30ff" stroke-width="1.0"/>
<path d="M179.28,400.87 L182.18,395.65 L176.38,395.65 Z" fill="none" stroke="#ff30ff" stroke-width="1.0"/>
<path d="M180.09,399.35 L182.99,394.13 L177.19,394.13 Z" fill="none" stroke="#ff30ff" stroke-width="1.0"/>
<path d="M180.90,396.89 L183.80,391.67 L178.00,391.67 Z" fill="none" stroke="#ff30ff" stroke-width="1.0"/>
<path d="M181.70,394.68 L184.60,389.46 L178.80,389.46 Z" fill="none" stroke="#ff30ff" stroke-width="1.0"/>
<path d="M182.51,394.01 L185.41,388.79 L179.61,388.79 Z" fill="none" stroke="#ff30ff" stroke-width="1.0"/>
<path d="M183.32,395.59 L186.22,390.37 L180.42,390.37 Z" fill="none" stroke="#ff30ff" stroke-width="1.0"/>
<path d="M184.13,396.90 L187.03,391.68 L181.23,391.68 Z" fill="none" stroke="#ff30ff" stroke-width="1.0"/>
<path d="M184.94,396.77 L187.84,391.55 L182.04,391.55 Z" fill="none" stroke="#ff30ff" stroke-width="1.0"/>
<path d="M185.75,397.75 L188.65,392.53 L182.85,392.53 Z" fill="none" stroke="#ff30ff" stroke-width="1.0"/>
<path d="M186.56,394.85 L189.46,389.63 L183.66,389.63 Z" fill="none" stroke="#ff30ff" stroke-width="1.0"/>
<path d="M187.36,396.07 L190.26,390.85 L184.46,390.85 Z" fill="none" stroke="#ff30ff" stroke-width="1.0"/>
<path d="M188.17,398.04 L191.07,392.82 L185.27,392.82 Z" fill="none" stroke="#ff30ff" stroke-width="1.0"/>
<path d="M188.98,399.64 L191.88,394.42 L186.08,394.42 Z" fill="none" stroke="#ff30ff" stroke-width="1.0"/>
<path d="M189.79,398.05 L192.69,392.83 L186.89,392.83 Z" fill="none" stroke="#ff30ff" stroke-width="1.0"/>
<path d="M190.60,400.94 L193.50,395.72 L187.70,395.72 Z" fill="none" stroke="#ff30ff" stroke-width="1.0"/>
<path d="M191.41,401.23 L194.31,396.01 L188.51,396.01 Z" fill="none" stroke="#ff30ff" stroke-width="1.0"/>
<path d="M192.21,398.84 L195.11,393.62 L189.31,393.62 Z" fill="none" stroke="#ff30ff" stroke-width="1.0"/>
<path d="M193.02,401.55 L195.92,396.33 L190.12,396.33 Z" fill="none" stroke="#ff30ff" stroke-width="1.0"/>
<path d="M193.83,400.89 L196.73,395.67 L190.93,395.67 Z" fill="none" stroke="#ff30ff" stroke-width="1.0"/>
<path d="M194.64,400.59 L197.54,395.37 L191.74,395.37 Z" fill="none" stroke="#ff30ff" stroke-width="1.0"/>
<path d="M195.45,401.54 L198.35,396.32 L192.55,396.32 Z" fill="none" stroke="#ff30ff" stroke-width="1.0"/>
<path d="M196.26,400.80 L199.16,395.58 L193.36,395.58 Z" fill="none" stroke="#ff30ff" stroke-width="1.0"/>
<path d="M197.07,398.38 L199.97,393.16 L194.17,393.16 Z" fill="none" stroke="#ff30ff" stroke-width="1.0"/>
<path d="M197.87,396.69 L200.77,391.47 L194.97,391.47 Z" fill="none" stroke="#ff30ff" stroke-width="1.0"/>
<path d="M198.68,394.16 L201.58,388.94 L195.78,388.94 Z" fill="none" stroke="#ff30ff" stroke-width="1.0"/>
<path d="M199.49,392.58 L202.39,387.36 L196.59,387.36 Z" fill="none" stroke="#ff30ff" stroke-width="1.0"/>
<path d="M200.30,395.90 L203.20,390.68 L197.40,390.68 Z" fill="none" stroke="#ff30ff" stroke-width="1.0"/>
<path d="M201.11,394.99 L204.01,389.77 L198.21,389.77 Z" fill="none" stroke="#ff30ff" stroke-width="1.0"/>
<path d="M201.92,395.69 L204.82,390.47 L199.02,390.47 Z" fill="none" stroke="#ff30ff" stroke-width="1.0"/>
<path d="M202.73,399.51 L205.63,394.29 L199.83,394.29 Z" fill="none" stroke="#ff30ff" stroke-width="1.0"/>
<path d="M203.53,399.84 L206.43,394.62 L200.63,394.62 Z" fill="none" stroke="#ff30ff" stroke-width="1.0"/>
<path d="M204.34,400.71 L207.24,395.49 L201.44,395.49 Z" fill="none" stroke="#ff30ff" stroke-width="1.0"/>
<path d="M205.15,400.64 L208.05,395.42 L202.25,395.42 Z" fill="none" stroke="#ff30ff" stroke-width="1.0"/>
<path d="M205.96,400.74 L208.86,395.52 L203.06,395.52 Z" fill="none" stroke="#ff30ff" stroke-width="1.0"/>
<path d="M206.77,403.64 L209.67,398.42 L203.87,398.42 Z" fill="none" stroke="#ff30ff" stroke-width="1.0"/>
<path d="M207.58,402.38 L210.48,397.16 L204.68,397.16 Z" fill="none" stroke="#ff30ff" stroke-width="1.0"/>
<path d="M208.38,401.95 L211.28,396.73 L205.48,396.73 Z" fill="none" stroke="#ff30ff" stroke-width="1.0"/>
<path d="M209.19,402.74 L212.09,397.52 L206.29,397.52 Z" fill="none" stroke="#ff30ff" stroke-width="1.0"/>
<path d="M210.00,404.64 L212.90,399.42 L207.10,399.42 Z" fill="none" stroke="#ff30ff" stroke-width="1.0"/>
<path d="M210.81,407.64 L213.71,402.42 L207.91,402.42 Z" fill="none" stroke="#ff30ff" stroke-width="1.0"/>
<path d="M211.62,403.90 L214.52,398.68 L208.72,398.68 Z" fill="none" stroke="#ff30ff" stroke-width="1.0"/>
<path d="M212.43,403.20 L215.33,397.98 L209.53,397.98 Z" fill="none" stroke="#ff30ff" stroke-width="1.0"/>
<path d="M213.24,401.10 L216.14,395.88 L210.34,395.88 Z" fill="none" stroke="#ff30ff" stroke-width="1.0"/>
<path d="M214.04,401.51 L216.94,396.29 L211.14,396.29 Z" fill="none" stroke="#ff30ff" stroke-width="1.0"/>
<path d="M214.85,401.30 L217.75,396.08 L211.95,396.08 Z" fill="none" stroke="#ff30ff" stroke-width="1.0"/>
<path d="M215.66,400.18 L218.56,394.96 L212.76,394.96 Z" fill="none" stroke="#ff30ff" stroke-width="1.0"/>
<path d="M216.47,398.83 L219.37,393.61 L213.57,393.61 Z" fill="none" stroke="#ff30ff" stroke-width="1.0"/>
<path d="M217.28,396.29 L220.18,391.07 L214.38,391.07 Z" fill="none" stroke="#ff30ff" stroke-width="1.0"/>
<path d="M218.09,397.62 L220.99,392.40 L215.19,392.40 Z" fill="none" stroke="#ff30ff" stroke-width="1.0"/>
<path d="M218.90,397.03 L221.80,391.81 L216.00,391.81 Z" fill="none" stroke="#ff30ff" stroke-width="1.0"/>
<path d="M219.70,400.45 L222.60,395.23 L216.80,395.23 Z" fill="none" stroke="#ff30ff" stroke-width="1.0"/>
<path d="M220.51,396.68 L223.41,391.46 L217.61,391.46 Z" fill="none" stroke="#ff30ff" stroke-width="1.0"/>
<path d="M221.32,397.92 L224.22,392.70 L218.42,392.70 Z" fill="none" stroke="#ff30ff" stroke-width="1.0"/>
<path d="M222.13,400.91 L225.03,395.69 L219.23,395.69 Z" fill="none" stroke="#ff30ff" stroke-width="1.0"/>
<path d="M222.94,401.86 L225.84,396.64 L220.04,396.64 Z" fill="none" stroke="#ff30ff" stroke-width="1.0"/>
<path d="M223.75,400.19 L226.65,394.97 L220.85,394.97 Z" fill="none" stroke="#ff30ff" stroke-width="1.0"/>
<path d="M224.55,403.33 L227.45,398.11 L221.65,398.11 Z" fill="none" stroke="#ff30ff" stroke-width="1.0"/>
<path d="M225.36,405.34 L228.26,400.12 L222.46,400.12 Z" fill="none" stroke="#ff30ff" stroke-width="1.0"/>
<path d="M226.17,403.46 L229.07,398.24 L223.27,398.24 Z" fill="none" stroke="#ff30ff" stroke-width="1.0"/>
<path d="M226.98,404.44 L229.88,399.22 L224.08,399.22 Z" fill="none" stroke="#ff30ff" stroke-width="1.0"/>
<path d="M227.79,404.12 L230.69,398.90 L224.89,398.90 Z" fill="none" stroke="#ff30ff" stroke-width="1.0"/>
<path d="M228.60,405.15 L231.50,399.93 L225.70,399.93 Z" fill="none" stroke="#ff30ff" stroke-width="1.0"/>
<path d="M229.41,409.25 L232.31,404.03 L226.51,404.03 Z" fill="none" stroke="#ff30ff" stroke-width="1.0"/>
<path d="M230.21,406.99 L233.11,401.77 L227.31,401.77 Z" fill="none" stroke="#ff30ff" stroke-width="1.0"/>
<path d="M231.02,410.60 L233.92,405.38 L228.12,405.38 Z" fill="none" stroke="#ff30ff" stroke-width="1.0"/>
<path d="M231.83,411.06 L234.73,405.84 L228.93,405.84 Z" fill="none" stroke="#ff30ff" stroke-width="1.0"/>
<path d="M232.64,410.17 L235.54,404.95 L229.74,404.95 Z" fill="none" stroke="#ff30ff" stroke-width="1.0"/>
<path d="M233.45,409.17 L236.35,403.95 L230.55,403.95 Z" fill="none" stroke="#ff30ff" stroke-width="1.0"/>
<path d="M234.26,408.28 L237.16,403.06 L231.36,403.06 Z" fill="none" stroke="#ff30ff" stroke-width="1.0"/>
<path d="M235.06,401.36 L237.97,396.14 L232.16,396.14 Z" fill="none" stroke="#ff30ff" stroke-width="1.0"/>
<path d="M235.87,403.45 L238.77,398.23 L232.97,398.23 Z" fill="none" stroke="#ff30ff" stroke-width="1.0"/>
<path d="M236.68,400.18 L239.58,394.96 L233.78,394.96 Z" fill="none" stroke="#ff30ff" stroke-width="1.0"/>
<path d="M237.49,400.25 L240.39,395.03 L234.59,395.03 Z" fill="none" stroke="#ff30ff" stroke-width="1.0"/>
<path d="M238.30,404.09 L241.20,398.87 L235.40,398.87 Z" fill="none" stroke="#ff30ff" stroke-width="1.0"/>
<path d="M239.11,406.26 L242.01,401.04 L236.21,401.04 Z" fill="none" stroke="#ff30ff" stroke-width="1.0"/>
<path d="M239.92,403.35 L242.82,398.13 L237.02,398.13 Z" fill="none" stroke="#ff30ff" stroke-width="1.0"/>
<path d="M240.72,402.96 L243.62,397.74 L237.82,397.74 Z" fill="none" stroke="#ff30ff" stroke-width="1.0"/>
<path d="M241.53,404.08 L244.43,398.86 L238.63,398.86 Z" fill="none" stroke="#ff30ff" stroke-width="1.0"/>
<path d="M242.34,406.00 L245.24,400.78 L239.44,400.78 Z" fill="none" stroke="#ff30ff" stroke-width="1.0"/>
<path d="M243.15,407.08 L246.05,401.86 L240.25,401.86 Z" fill="none" stroke="#ff30ff" stroke-width="1.0"/>
<path d="M243.96,408.12 L246.86,402.90 L241.06,402.90 Z" fill="none" stroke="#ff30ff" stroke-width="1.0"/>
<path d="M244.77,407.18 L247.67,401.96 L241.87,401.96 Z" fill="none" stroke="#ff30ff" stroke-width="1.0"/>
<path d="M245.58,408.97 L248.48,403.75 L242.68,403.75 Z" fill="none" stroke="#ff30ff" stroke-width="1.0"/>
<path d="M246.38,407.42 L249.28,402.20 L243.48,402.20 Z" fill="none" stroke="#ff30ff" stroke-width="1.0"/>
<path d="M247.19,410.33 L250.09,405.11 L244.29,405.11 Z" fill="none" stroke="#ff30ff" stroke-width="1.0"/>
<path d="M248.00,412.74 L250.90,407.52 L245.10,407.52 Z" fill="none" stroke="#ff30ff" stroke-width="1.0"/>
<path d="M248.81,411.43 L251.71,406.21 L245.91,406.21 Z" fill="none" stroke="#ff30ff" stroke-width="1.0"/>
<path d="M249.62,408.16 L252.52,402.94 L246.72,402.94 Z" fill="none" stroke="#ff30ff" stroke-width="1.0"/>
<path d="M250.43,408.11 L253.33,402.89 L247.53,402.89 Z" fill="none" stroke="#ff30ff" stroke-width="1.0"/>
<path d="M251.24,409.52 L254.14,404.30 L248.34,404.30 Z" fill="none" stroke="#ff30ff" stroke-width="1.0"/>
<path d="M252.04,406.06 L254.94,400.84 L249.14,400.84 Z" fill="none" stroke="#ff30ff" stroke-width="1.0"/>
<path d="M252.85,406.70 L255.75,401.48 L249.95,401.48 Z" fill="none" stroke="#ff30ff" stroke-width="1.0"/>
<path d="M253.66,403.21 L256.56,397.99 L250.76,397.99 Z" fill="none" stroke="#ff30ff" stroke-width="1.0"/>
<path d="M254.47,403.59 L257.37,398.37 L251.57,398.37 Z" fill="none" stroke="#ff30ff" stroke-width="1.0"/>
<path d="M255.28,405.04 L258.18,399.82 L252.38,399.82 Z" fill="none" stroke="#ff30ff" stroke-width="1.0"/>
<path d="M256.09,402.38 L258.99,397.16 L253.19,397.16 Z" fill="none" stroke="#ff30ff" stroke-width="1.0"/>
<path d="M256.89,404.86 L259.79,399.64 L253.99,399.64 Z" fill="none" stroke="#ff30ff" stroke-width="1.0"/>
<path d="M257.70,407.38 L260.60,402.16 L254.80,402.16 Z" fill="none" stroke="#ff30ff" stroke-width="1.0"/>
<path d="M258.51,408.89 L261.41,403.67 L255.61,403.67 Z" fill="none" stroke="#ff30ff" stroke-width="1.0"/>
<path d="M259.32,406.36 L262.22,401.14 L256.42,401.14 Z" fill="none" stroke="#ff30ff" stroke-width="1.0"/>
<path d="M260.13,406.57 L263.03,401.35 L257.23,401.35 Z" fill="none" stroke="#ff30ff" stroke-width="1.0"/>
<path d="M260.94,410.18 L263.84,404.96 L258.04,404.96 Z" fill="none" stroke="#ff30ff" stroke-width="1.0"/>
<path d="M261.75,411.70 L264.65,406.48 L258.85,406.48 Z" fill="none" stroke="#ff30ff" stroke-width="1.0"/>
<path d="M262.55,409.02 L265.45,403.80 L259.65,403.80 Z" fill="none" stroke="#ff30ff" stroke-width="1.0"/>
<path d="M263.36,410.39 L266.26,405.17 L260.46,405.17 Z" fill="none" stroke="#ff30ff" stroke-width="1.0"/>
<path d="M264.17,406.38 L267.07,401.16 L261.27,401.16 Z" fill="none" stroke="#ff30ff" stroke-width="1.0"/>
<path d="M264.98,406.05 L267.88,400.83 L262.08,400.83 Z" fill="none" stroke="#ff30ff" stroke-width="1.0"/>
<path d="M265.79,406.41 L268.69,401.19 L262.89,401.19 Z" fill="none" stroke="#ff30ff" stroke-width="1.0"/>
<path d="M266.60,404.13 L269.50,398.91 L263.70,398.91 Z" fill="none" stroke="#ff30ff" stroke-width="1.0"/>
<path d="M267.40,405.13 L270.30,399.91 L264.50,399.91 Z" fill="none" stroke="#ff30ff" stroke-width="1.0"/>
<path d="M268.21,406.84 L271.11,401.62 L265.31,401.62 Z" fill="none" stroke="#ff30ff" stroke-width="1.0"/>
<path d="M269.02,405.49 L271.92,400.27 L266.12,400.27 Z" fill="none" stroke="#ff30ff" stroke-width="1.0"/>
<path d="M269.83,407.77 L272.73,402.55 L266.93,402.55 Z" fill="none" stroke="#ff30ff" stroke-width="1.0"/>
<path d="M270.64,406.25 L273.54,401.03 L267.74,401.03 Z" fill="none" stroke="#ff30ff" stroke-width="1.0"/>
<path d="M271.45,405.49 L274.35,400.27 L268.55,400.27 Z" fill="none" stroke="#ff30ff" stroke-width="1.0"/>
<path d="M272.26,410.10 L275.16,404.88 L269.36,404.88 Z" fill="none" stroke="#ff30ff" stroke-width="1.0"/>
<path d="M273.06,409.86 L275.96,404.64 L270.16,404.64 Z" fill="none" stroke="#ff30ff" stroke-width="1.0"/>
<path d="M273.87,410.92 L276.77,405.70 L270.97,405.70 Z" fill="none" stroke="#ff30ff" stroke-width="1.0"/>
<path d="M274.68,410.78 L277.58,405.56 L271.78,405.56 Z" fill="none" stroke="#ff30ff" stroke-width="1.0"/>
<path d="M275.49,410.71 L278.39,405.49 L272.59,405.49 Z" fill="none" stroke="#ff30ff" stroke-width="1.0"/>
<path d="M276.30,410.72 L279.20,405.50 L273.40,405.50 Z" fill="none" stroke="#ff30ff" stroke-width="1.0"/>
<path d="M277.11,414.10 L280.01,408.88 L274.21,408.88 Z" fill="none" stroke="#ff30ff" stroke-width="1.0"/>
<path d="M277.92,415.81 L280.82,410.59 L275.02,410.59 Z" fill="none" stroke="#ff30ff" stroke-width="1.0"/>
<path d="M278.72,416.96 L281.62,411.74 L275.82,411.74 Z" fill="none" stroke="#ff30ff" stroke-width="1.0"/>
<path d="M279.53,415.53 L282.43,410.31 L276.63,410.31 Z" fill="none" stroke="#ff30ff" stroke-width="1.0"/>
<path d="M280.34,415.70 L283.24,410.48 L277.44,410.48 Z" fill="none" stroke="#ff30ff" stroke-width="1.0"/>
<path d="M281.15,415.17 L284.05,409.95 L278.25,409.95 Z" fill="none" stroke="#ff30ff" stroke-width="1.0"/>
<path d="M281.96,410.68 L284.86,405.46 L279.06,405.46 Z" fill="none" stroke="#ff30ff" stroke-width="1.0"/>
<path d="M282.77,412.08 L285.67,406.86 L279.87,406.86 Z" fill="none" stroke="#ff30ff" stroke-width="1.0"/>
<path d="M283.58,407.73 L286.48,402.51 L280.68,402.51 Z" fill="none" stroke="#ff30ff" stroke-width="1.0"/>
<path d="M284.38,404.80 L287.28,399.58 L281.48,399.58 Z" fill="none" stroke="#ff30ff" stroke-width="1.0"/>
<path d="M285.19,402.67 L288.09,397.45 L282.29,397.45 Z" fill="none" stroke="#ff30ff" stroke-width="1.0"/>
<path d="M286.00,404.22 L288.90,399.00 L283.10,399.00 Z" fill="none" stroke="#ff30ff" stroke-width="1.0"/>
<path d="M286.81,405.79 L289.71,400.57 L283.91,400.57 Z" fill="none" stroke="#ff30ff" stroke-width="1.0"/>
<path d="M287.62,405.14 L290.52,399.92 L284.72,399.92 Z" fill="none" stroke="#ff30ff" stroke-width="1.0"/>
<path d="M288.43,406.30 L291.33,401.08 L285.53,401.08 Z" fill="none" stroke="#ff30ff" stroke-width="1.0"/>
<path d="M289.23,409.93 L292.13,404.71 L286.33,404.71 Z" fill="none" stroke="#ff30ff" stroke-width="1.0"/>
<path d="M290.04,412.15 L292.94,406.93 L287.14,406.93 Z" fill="none" stroke="#ff30ff" stroke-width="1.0"/>
<path d="M290.85,409.75 L293.75,404.53 L287.95,404.53 Z" fill="none" stroke="#ff30ff" stroke-width="1.0"/>
<path d="M291.66,414.83 L294.56,409.61 L288.76,409.61 Z" fill="none" stroke="#ff30ff" stroke-width="1.0"/>
<path d="M292.47,416.49 L295.37,411.27 L289.57,411.27 Z" fill="none" stroke="#ff30ff" stroke-width="1.0"/>
<path d="M293.28,414.66 L296.18,409.44 L290.38,409.44 Z" fill="none" stroke="#ff30ff" stroke-width="1.0"/>
<path d="M294.09,411.49 L296.99,406.27 L291.19,406.27 Z" fill="none" stroke="#ff30ff" stroke-width="1.0"/>
<path d="M294.89,408.37 L297.79,403.15 L291.99,403.15 Z" fill="none" stroke="#ff30ff" stroke-width="1.0"/>
<path d="M295.70,406.55 L298.60,401.33 L292.80,401.33 Z" fill="none" stroke="#ff30ff" stroke-width="1.0"/>
<path d="M296.51,407.79 L299.41,402.57 L293.61,402.57 Z" fill="none" stroke="#ff30ff" stroke-width="1.0"/>
<path d="M297.32,402.97 L300.22,397.75 L294.42,397.75 Z" fill="none" stroke="#ff30ff" stroke-width="1.0"/>
<path d="M298.13,402.66 L301.03,397.44 L295.23,397.44 Z" fill="none" stroke="#ff30ff" stroke-width="1.0"/>
<path d="M298.94,403.81 L301.84,398.59 L296.04,398.59 Z" fill="none" stroke="#ff30ff" stroke-width="1.0"/>
<path d="M299.75,407.62 L302.64,402.40 L296.85,402.40 Z" fill="none" stroke="#ff30ff" stroke-width="1.0"/>
<path d="M300.55,409.62 L303.45,404.40 L297.65,404.40 Z" fill="none" stroke="#ff30ff" stroke-width="1.0"/>
<path d="M301.36,411.43 L304.26,406.21 L298.46,406.21 Z" fill="none" stroke="#ff30ff" stroke-width="1.0"/>
<path d="M302.17,408.84 L305.07,403.62 L299.27,403.62 Z" fill="none" stroke="#ff30ff" stroke-width="1.0"/>
<path d="M302.98,411.46 L305.88,406.24 L300.08,406.24 Z" fill="none" stroke="#ff30ff" stroke-width="1.0"/>
<path d="M303.79,412.00 L306.69,406.78 L300.89,406.78 Z" fill="none" stroke="#ff30ff" stroke-width="1.0"/>
<path d="M304.60,414.56 L307.50,409.34 L301.70,409.34 Z" fill="none" stroke="#ff30ff" stroke-width="1.0"/>
<path d="M305.40,412.78 L308.30,407.56 L302.50,407.56 Z" fill="none" stroke="#ff30ff" stroke-width="1.0"/>
<path d="M306.21,412.90 L309.11,407.68 L303.31,407.68 Z" fill="none" stroke="#ff30ff" stroke-width="1.0"/>
<path d="M307.02,407.95 L309.92,402.73 L304.12,402.73 Z" fill="none" stroke="#ff30ff" stroke-width="1.0"/>
<path d="M307.83,404.23 L310.73,399.01 L304.93,399.01 Z" fill="none" stroke="#ff30ff" stroke-width="1.0"/>
<path d="M308.64,405.30 L311.54,400.08 L305.74,400.08 Z" fill="none" stroke="#ff30ff" stroke-width="1.0"/>
<path d="M309.45,406.49 L312.35,401.27 L306.55,401.27 Z" fill="none" stroke="#ff30ff" stroke-width="1.0"/>
<path d="M310.26,405.43 L313.16,400.21 L307.36,400.21 Z" fill="none" stroke="#ff30ff" stroke-width="1.0"/>
<path d="M311.06,404.68 L313.96,399.46 L308.16,399.46 Z" fill="none" stroke="#ff30ff" stroke-width="1.0"/>
<path d="M311.87,404.79 L314.77,399.57 L308.97,399.57 Z" fill="none" stroke="#ff30ff" stroke-width="1.0"/>
<path d="M312.68,406.55 L315.58,401.33 L309.78,401.33 Z" fill="none" stroke="#ff30ff" stroke-width="1.0"/>
<path d="M313.49,410.44 L316.39,405.22 L310.59,405.22 Z" fill="none" stroke="#ff30ff" stroke-width="1.0"/>
<path d="M314.30,408.59 L317.20,403.37 L311.40,403.37 Z" fill="none" stroke="#ff30ff" stroke-width="1.0"/>
<path d="M315.11,412.95 L318.01,407.73 L312.21,407.73 Z" fill="none" stroke="#ff30ff" stroke-width="1.0"/>
<path d="M315.92,413.01 L318.81,407.79 L313.02,407.79 Z" fill="none" stroke="#ff30ff" stroke-width="1.0"/>
<path d="M316.72,414.19 L319.62,408.97 L313.82,408.97 Z" fill="none" stroke="#ff30ff" stroke-width="1.0"/>
<path d="M317.53,413.03 L320.43,407.81 L314.63,407.81 Z" fill="none" stroke="#ff30ff" stroke-width="1.0"/>
<path d="M318.34,413.61 L321.24,408.39 L315.44,408.39 Z" fill="none" stroke="#ff30ff" stroke-width="1.0"/>
<path d="M319.15,410.82 L322.05,405.60 L316.25,405.60 Z" fill="none" stroke="#ff30ff" stroke-width="1.0"/>
<path d="M319.96,408.07 L322.86,402.85 L317.06,402.85 Z" fill="none" stroke="#ff30ff" stroke-width="1.0"/>
<path d="M320.77,407.49 L323.67,402.27 L317.87,402.27 Z" fill="none" stroke="#ff30ff" stroke-width="1.0"/>
<path d="M321.57,406.46 L324.47,401.24 L318.67,401.24 Z" fill="none" stroke="#ff30ff" stroke-width="1.0"/>
<path d="M322.38,401.59 L325.28,396.37 L319.48,396.37 Z" fill="none" stroke="#ff30ff" stroke-width="1.0"/>
<path d="M323.19,402.65 L326.09,397.43 L320.29,397.43 Z" fill="none" stroke="#ff30ff" stroke-width="1.0"/>
<path d="M324.00,406.03 L326.90,400.81 L321.10,400.81 Z" fill="none" stroke="#ff30ff" stroke-width="1.0"/>
<path d="M216.47,389.46 L219.27,394.50 L213.67,394.50 Z" fill="none" stroke="#1010e8" stroke-width="1.0"/>
<path d="M217.28,389.54 L220.08,394.58 L214.48,394.58 Z" fill="none" stroke="#1010e8" stroke-width="1.0"/>
<path d="M218.09,390.27 L220.89,395.31 L215.29,395.31 Z" fill="none" stroke="#1010e8" stroke-width="1.0"/>
<path d="M218.90,389.75 L221.70,394.79 L216.09,394.79 Z" fill="none" stroke="#1010e8" stroke-width="1.0"/>
<path d="M219.70,389.31 L222.50,394.35 L216.90,394.35 Z" fill="none" stroke="#1010e8" stroke-width="1.0"/>
<path d="M220.51,392.05 L223.31,397.09 L217.71,397.09 Z" fill="none" stroke="#1010e8" stroke-width="1.0"/>
<path d="M221.32,390.20 L224.12,395.24 L218.52,395.24 Z" fill="none" stroke="#1010e8" stroke-width="1.0"/>
<path d="M222.13,390.16 L224.93,395.20 L219.33,395.20 Z" fill="none" stroke="#1010e8" stroke-width="1.0"/>
<path d="M222.94,388.15 L225.74,393.19 L220.14,393.19 Z" fill="none" stroke="#1010e8" stroke-width="1.0"/>
<path d="M223.75,385.99 L226.55,391.03 L220.95,391.03 Z" fill="none" stroke="#1010e8" stroke-width="1.0"/>
<path d="M224.55,385.20 L227.35,390.24 L221.75,390.24 Z" fill="none" stroke="#1010e8" stroke-width="1.0"/>
<path d="M225.36,384.32 L228.16,389.36 L222.56,389.36 Z" fill="none" stroke="#1010e8" stroke-width="1.0"/>
<path d="M226.17,385.09 L228.97,390.13 L223.37,390.13 Z" fill="none" stroke="#1010e8" stroke-width="1.0"/>
<path d="M226.98,387.89 L229.78,392.93 L224.18,392.93 Z" fill="none" stroke="#1010e8" stroke-width="1.0"/>
<path d="M227.79,385.91 L230.59,390.95 L224.99,390.95 Z" fill="none" stroke="#1010e8" stroke-width="1.0"/>
<path d="M228.60,388.03 L231.40,393.07 L225.80,393.07 Z" fill="none" stroke="#1010e8" stroke-width="1.0"/>
<path d="M229.41,388.48 L232.21,393.52 L226.61,393.52 Z" fill="none" stroke="#1010e8" stroke-width="1.0"/>
<path d="M230.21,387.89 L233.01,392.93 L227.41,392.93 Z" fill="none" stroke="#1010e8" stroke-width="1.0"/>
<path d="M231.02,386.19 L233.82,391.23 L228.22,391.23 Z" fill="none" stroke="#1010e8" stroke-width="1.0"/>
<path d="M231.83,387.24 L234.63,392.28 L229.03,392.28 Z" fill="none" stroke="#1010e8" stroke-width="1.0"/>
<path d="M232.64,389.74 L235.44,394.78 L229.84,394.78 Z" fill="none" stroke="#1010e8" stroke-width="1.0"/>
<path d="M233.45,389.07 L236.25,394.11 L230.65,394.11 Z" fill="none" stroke="#1010e8" stroke-width="1.0"/>
<path d="M234.26,390.99 L237.06,396.03 L231.46,396.03 Z" fill="none" stroke="#1010e8" stroke-width="1.0"/>
<path d="M235.06,389.50 L237.87,394.54 L232.26,394.54 Z" fill="none" stroke="#1010e8" stroke-width="1.0"/>
<path d="M235.87,391.77 L238.67,396.81 L233.07,396.81 Z" fill="none" stroke="#1010e8" stroke-width="1.0"/>
<path d="M236.68,388.71 L239.48,393.75 L233.88,393.75 Z" fill="none" stroke="#1010e8" stroke-width="1.0"/>
<path d="M237.49,391.76 L240.29,396.80 L234.69,396.80 Z" fill="none" stroke="#1010e8" stroke-width="1.0"/>
<path d="M238.30,391.46 L241.10,396.50 L235.50,396.50 Z" fill="none" stroke="#1010e8" stroke-width="1.0"/>
<path d="M239.11,389.74 L241.91,394.78 L236.31,394.78 Z" fill="none" stroke="#1010e8" stroke-width="1.0"/>
<path d="M239.92,389.49 L242.72,394.53 L237.12,394.53 Z" fill="none" stroke="#1010e8" stroke-width="1.0"/>
<path d="M240.72,390.41 L243.52,395.45 L237.92,395.45 Z" fill="none" stroke="#1010e8" stroke-width="1.0"/>
<path d="M241.53,387.37 L244.33,392.41 L238.73,392.41 Z" fill="none" stroke="#1010e8" stroke-width="1.0"/>
<path d="M242.34,386.59 L245.14,391.63 L239.54,391.63 Z" fill="none" stroke="#1010e8" stroke-width="1.0"/>
<path d="M243.15,387.06 L245.95,392.10 L240.35,392.10 Z" fill="none" stroke="#1010e8" stroke-width="1.0"/>
<path d="M243.96,388.99 L246.76,394.03 L241.16,394.03 Z" fill="none" stroke="#1010e8" stroke-width="1.0"/>
<path d="M244.77,389.34 L247.57,394.38 L241.97,394.38 Z" fill="none" stroke="#1010e8" stroke-width="1.0"/>
<path d="M245.58,390.61 L248.38,395.65 L242.78,395.65 Z" fill="none" stroke="#1010e8" stroke-width="1.0"/>
<path d="M246.38,389.37 L249.18,394.41 L243.58,394.41 Z" fill="none" stroke="#1010e8" stroke-width="1.0"/>
<path d="M247.19,390.80 L249.99,395.84 L244.39,395.84 Z" fill="none" stroke="#1010e8" stroke-width="1.0"/>
<path d="M248.00,389.70 L250.80,394.74 L245.20,394.74 Z" fill="none" stroke="#1010e8" stroke-width="1.0"/>
<path d="M248.81,392.45 L251.61,397.49 L246.01,397.49 Z" fill="none" stroke="#1010e8" stroke-width="1.0"/>
<path d="M249.62,393.52 L252.42,398.56 L246.82,398.56 Z" fill="none" stroke="#1010e8" stroke-width="1.0"/>
<path d="M250.43,393.49 L253.23,398.53 L247.63,398.53 Z" fill="none" stroke="#1010e8" stroke-width="1.0"/>
<path d="M251.24,394.48 L254.04,399.52 L248.44,399.52 Z" fill="none" stroke="#1010e8" stroke-width="1.0"/>
<path d="M252.04,392.25 L254.84,397.29 L249.24,397.29 Z" fill="none" stroke="#1010e8" stroke-width="1.0"/>
<path d="M252.85,392.86 L255.65,397.90 L250.05,397.90 Z" fill="none" stroke="#1010e8" stroke-width="1.0"/>
<path d="M253.66,391.05 L256.46,396.09 L250.86,396.09 Z" fill="none" stroke="#1010e8" stroke-width="1.0"/>
<path d="M254.47,388.61 L257.27,393.65 L251.67,393.65 Z" fill="none" stroke="#1010e8" stroke-width="1.0"/>
<path d="M255.28,388.96 L258.08,394.00 L252.48,394.00 Z" fill="none" stroke="#1010e8" stroke-width="1.0"/>
<path d="M256.09,387.49 L258.89,392.53 L253.29,392.53 Z" fill="none" stroke="#1010e8" stroke-width="1.0"/>
<path d="M256.89,386.99 L259.69,392.03 L254.09,392.03 Z" fill="none" stroke="#1010e8" stroke-width="1.0"/>
<path d="M257.70,388.99 L260.50,394.03 L254.90,394.03 Z" fill="none" stroke="#1010e8" stroke-width="1.0"/>
<path d="M258.51,389.99 L261.31,395.03 L255.71,395.03 Z" fill="none" stroke="#1010e8" stroke-width="1.0"/>
<path d="M259.32,391.42 L262.12,396.46 L256.52,396.46 Z" fill="none" stroke="#1010e8" stroke-width="1.0"/>
<path d="M260.13,390.86 L262.93,395.90 L257.33,395.90 Z" fill="none" stroke="#1010e8" stroke-width="1.0"/>
<path d="M260.94,389.59 L263.74,394.63 L258.14,394.63 Z" fill="none" stroke="#1010e8" stroke-width="1.0"/>
<path d="M261.75,393.28 L264.55,398.32 L258.95,398.32 Z" fill="none" stroke="#1010e8" stroke-width="1.0"/>
<path d="M262.55,390.86 L265.35,395.90 L259.75,395.90 Z" fill="none" stroke="#1010e8" stroke-width="1.0"/>
<path d="M263.36,394.37 L266.16,399.41 L260.56,399.41 Z" fill="none" stroke="#1010e8" stroke-width="1.0"/>
<path d="M264.17,392.42 L266.97,397.46 L261.37,397.46 Z" fill="none" stroke="#1010e8" stroke-width="1.0"/>
<path d="M264.98,391.87 L267.78,396.91 L262.18,396.91 Z" fill="none" stroke="#1010e8" stroke-width="1.0"/>
<path d="M265.79,392.09 L268.59,397.13 L262.99,397.13 Z" fill="none" stroke="#1010e8" stroke-width="1.0"/>
<path d="M266.60,387.90 L269.40,392.94 L263.80,392.94 Z" fill="none" stroke="#1010e8" stroke-width="1.0"/>
<path d="M267.40,386.34 L270.20,391.38 L264.60,391.38 Z" fill="none" stroke="#1010e8" stroke-width="1.0"/>
<path d="M268.21,385.53 L271.01,390.57 L265.41,390.57 Z" fill="none" stroke="#1010e8" stroke-width="1.0"/>
<path d="M269.02,387.77 L271.82,392.81 L266.22,392.81 Z" fill="none" stroke="#1010e8" stroke-width="1.0"/>
<path d="M269.83,387.06 L272.63,392.10 L267.03,392.10 Z" fill="none" stroke="#1010e8" stroke-width="1.0"/>
<path d="M270.64,387.99 L273.44,393.03 L267.84,393.03 Z" fill="none" stroke="#1010e8" stroke-width="1.0"/>
<path d="M271.45,388.75 L274.25,393.79 L268.65,393.79 Z" fill="none" stroke="#1010e8" stroke-width="1.0"/>
<path d="M272.26,387.97 L275.06,393.01 L269.46,393.01 Z" fill="none" stroke="#1010e8" stroke-width="1.0"/>
<path d="M273.06,388.93 L275.86,393.97 L270.26,393.97 Z" fill="none" stroke="#1010e8" stroke-width="1.0"/>
<path d="M273.87,390.51 L276.67,395.55 L271.07,395.55 Z" fill="none" stroke="#1010e8" stroke-width="1.0"/>
<path d="M274.68,389.92 L277.48,394.96 L271.88,394.96 Z" fill="none" stroke="#1010e8" stroke-width="1.0"/>
<path d="M275.49,388.82 L278.29,393.86 L272.69,393.86 Z" fill="none" stroke="#1010e8" stroke-width="1.0"/>
<path d="M276.30,390.71 L279.10,395.75 L273.50,395.75 Z" fill="none" stroke="#1010e8" stroke-width="1.0"/>
<path d="M277.11,392.77 L279.91,397.81 L274.31,397.81 Z" fill="none" stroke="#1010e8" stroke-width="1.0"/>
<path d="M277.92,390.66 L280.72,395.70 L275.12,395.70 Z" fill="none" stroke="#1010e8" stroke-width="1.0"/>
<path d="M278.72,392.81 L281.52,397.85 L275.92,397.85 Z" fill="none" stroke="#1010e8" stroke-width="1.0"/>
<path d="M279.53,394.43 L282.33,399.47 L276.73,399.47 Z" fill="none" stroke="#1010e8" stroke-width="1.0"/>
<path d="M280.34,394.58 L283.14,399.62 L277.54,399.62 Z" fill="none" stroke="#1010e8" stroke-width="1.0"/>
<path d="M281.15,394.03 L283.95,399.07 L278.35,399.07 Z" fill="none" stroke="#1010e8" stroke-width="1.0"/>
<path d="M281.96,393.29 L284.76,398.33 L279.16,398.33 Z" fill="none" stroke="#1010e8" stroke-width="1.0"/>
<path d="M282.77,392.87 L285.57,397.91 L279.97,397.91 Z" fill="none" stroke="#1010e8" stroke-width="1.0"/>
<path d="M283.58,391.74 L286.38,396.78 L280.78,396.78 Z" fill="none" stroke="#1010e8" stroke-width="1.0"/>
<path d="M284.38,387.91 L287.18,392.95 L281.58,392.95 Z" fill="none" stroke="#1010e8" stroke-width="1.0"/>
<path d="M285.19,388.27 L287.99,393.31 L282.39,393.31 Z" fill="none" stroke="#1010e8" stroke-width="1.0"/>
<path d="M286.00,386.29 L288.80,391.33 L283.20,391.33 Z" fill="none" stroke="#1010e8" stroke-width="1.0"/>
<path d="M286.81,390.37 L289.61,395.41 L284.01,395.41 Z" fill="none" stroke="#1010e8" stroke-width="1.0"/>
<path d="M287.62,388.88 L290.42,393.92 L284.82,393.92 Z" fill="none" stroke="#1010e8" stroke-width="1.0"/>
<path d="M288.43,388.74 L291.23,393.78 L285.63,393.78 Z" fill="none" stroke="#1010e8" stroke-width="1.0"/>
<path d="M289.23,390.67 L292.03,395.71 L286.43,395.71 Z" fill="none" stroke="#1010e8" stroke-width="1.0"/>
<path d="M290.04,390.03 L292.84,395.07 L287.24,395.07 Z" fill="none" stroke="#1010e8" stroke-width="1.0"/>
<path d="M290.85,390.07 L293.65,395.11 L288.05,395.11 Z" fill="none" stroke="#1010e8" stroke-width="1.0"/>
<path d="M291.66,391.19 L294.46,396.23 L288.86,396.23 Z" fill="none" stroke="#1010e8" stroke-width="1.0"/>
<path d="M292.47,389.01 L295.27,394.05 L289.67,394.05 Z" fill="none" stroke="#1010e8" stroke-width="1.0"/>
<path d="M293.28,391.22 L296.08,396.26 L290.48,396.26 Z" fill="none" stroke="#1010e8" stroke-width="1.0"/>
<path d="M294.09,391.05 L296.89,396.09 L291.29,396.09 Z" fill="none" stroke="#1010e8" stroke-width="1.0"/>
<path d="M294.89,393.54 L297.69,398.58 L292.09,398.58 Z" fill="none" stroke="#1010e8" stroke-width="1.0"/>
<path d="M295.70,393.73 L298.50,398.77 L292.90,398.77 Z" fill="none" stroke="#1010e8" stroke-width="1.0"/>
<path d="M296.51,391.43 L299.31,396.47 L293.71,396.47 Z" fill="none" stroke="#1010e8" stroke-width="1.0"/>
<path d="M297.32,392.57 L300.12,397.61 L294.52,397.61 Z" fill="none" stroke="#1010e8" stroke-width="1.0"/>
<path d="M298.13,391.51 L300.93,396.55 L295.33,396.55 Z" fill="none" stroke="#1010e8" stroke-width="1.0"/>
<path d="M298.94,391.95 L301.74,396.99 L296.14,396.99 Z" fill="none" stroke="#1010e8" stroke-width="1.0"/>
<path d="M299.75,392.26 L302.55,397.30 L296.94,397.30 Z" fill="none" stroke="#1010e8" stroke-width="1.0"/>
<path d="M300.55,391.38 L303.35,396.42 L297.75,396.42 Z" fill="none" stroke="#1010e8" stroke-width="1.0"/>
<path d="M301.36,388.46 L304.16,393.50 L298.56,393.50 Z" fill="none" stroke="#1010e8" stroke-width="1.0"/>
<path d="M302.17,387.19 L304.97,392.23 L299.37,392.23 Z" fill="none" stroke="#1010e8" stroke-width="1.0"/>
<path d="M302.98,389.39 L305.78,394.43 L300.18,394.43 Z" fill="none" stroke="#1010e8" stroke-width="1.0"/>
<path d="M303.79,390.92 L306.59,395.96 L300.99,395.96 Z" fill="none" stroke="#1010e8" stroke-width="1.0"/>
<path d="M304.60,387.58 L307.40,392.62 L301.80,392.62 Z" fill="none" stroke="#1010e8" stroke-width="1.0"/>
<path d="M305.40,388.49 L308.20,393.53 L302.60,393.53 Z" fill="none" stroke="#1010e8" stroke-width="1.0"/>
<path d="M306.21,388.34 L309.01,393.38 L303.41,393.38 Z" fill="none" stroke="#1010e8" stroke-width="1.0"/>
<path d="M307.02,389.86 L309.82,394.90 L304.22,394.90 Z" fill="none" stroke="#1010e8" stroke-width="1.0"/>
<path d="M307.83,392.05 L310.63,397.09 L305.03,397.09 Z" fill="none" stroke="#1010e8" stroke-width="1.0"/>
<path d="M308.64,390.56 L311.44,395.60 L305.84,395.60 Z" fill="none" stroke="#1010e8" stroke-width="1.0"/>
<path d="M309.45,392.00 L312.25,397.04 L306.65,397.04 Z" fill="none" stroke="#1010e8" stroke-width="1.0"/>
<path d="M310.26,392.43 L313.06,397.47 L307.46,397.47 Z" fill="none" stroke="#1010e8" stroke-width="1.0"/>
<path d="M311.06,393.17 L313.86,398.21 L308.26,398.21 Z" fill="none" stroke="#1010e8" stroke-width="1.0"/>
<path d="M311.87,393.46 L314.67,398.50 L309.07,398.50 Z" fill="none" stroke="#1010e8" stroke-width="1.0"/>
<path d="M312.68,391.77 L315.48,396.81 L309.88,396.81 Z" fill="none" stroke="#1010e8" stroke-width="1.0"/>
<path d="M313.49,391.36 L316.29,396.40 L310.69,396.40 Z" fill="none" stroke="#1010e8" stroke-width="1.0"/>
<path d="M314.30,390.51 L317.10,395.55 L311.50,395.55 Z" fill="none" stroke="#1010e8" stroke-width="1.0"/>
<path d="M315.11,390.43 L317.91,395.47 L312.31,395.47 Z" fill="none" stroke="#1010e8" stroke-width="1.0"/>
<path d="M315.92,386.36 L318.72,391.40 L313.12,391.40 Z" fill="none" stroke="#1010e8" stroke-width="1.0"/>
<path d="M316.72,387.25 L319.52,392.29 L313.92,392.29 Z" fill="none" stroke="#1010e8" stroke-width="1.0"/>
<path d="M317.53,389.68 L320.33,394.72 L314.73,394.72 Z" fill="none" stroke="#1010e8" stroke-width="1.0"/>
<path d="M318.34,390.43 L321.14,395.47 L315.54,395.47 Z" fill="none" stroke="#1010e8" stroke-width="1.0"/>
<path d="M319.15,390.71 L321.95,395.75 L316.35,395.75 Z" fill="none" stroke="#1010e8" stroke-width="1.0"/>
<path d="M319.96,392.71 L322.76,397.75 L317.16,397.75 Z" fill="none" stroke="#1010e8" stroke-width="1.0"/>
<path d="M320.77,392.47 L323.57,397.51 L317.97,397.51 Z" fill="none" stroke="#1010e8" stroke-width="1.0"/>
<path d="M321.57,394.17 L324.37,399.21 L318.77,399.21 Z" fill="none" stroke="#1010e8" stroke-width="1.0"/>
<path d="M322.38,392.39 L325.18,397.43 L319.58,397.43 Z" fill="none" stroke="#1010e8" stroke-width="1.0"/>
<path d="M323.19,392.78 L325.99,397.82 L320.39,397.82 Z" fill="none" stroke="#1010e8" stroke-width="1.0"/>
<path d="M324.00,390.10 L326.80,395.14 L321.20,395.14 Z" fill="none" stroke="#1010e8" stroke-width="1.0"/>
<rect x="54.00" y="256.00" width="270.00" height="194.70" fill="none" stroke="#000" stroke-width="2.0"/>
<line x1="54.50" y1="450.70" x2="54.50" y2="457.20" stroke="#000" stroke-width="2"/>
<text x="54.50" y="470.30" font-size="13.5" text-anchor="middle" fill="#111" stroke="#111" stroke-width="0.3" >0</text>
<line x1="108.40" y1="450.70" x2="108.40" y2="457.20" stroke="#000" stroke-width="2"/>
<text x="108.40" y="470.30" font-size="13.5" text-anchor="middle" fill="#111" stroke="#111" stroke-width="0.3" >200</text>
<line x1="162.30" y1="450.70" x2="162.30" y2="457.20" stroke="#000" stroke-width="2"/>
<text x="162.30" y="470.30" font-size="13.5" text-anchor="middle" fill="#111" stroke="#111" stroke-width="0.3" >400</text>
<line x1="216.20" y1="450.70" x2="216.20" y2="457.20" stroke="#000" stroke-width="2"/>
<text x="216.20" y="470.30" font-size="13.5" text-anchor="middle" fill="#111" stroke="#111" stroke-width="0.3" >600</text>
<line x1="270.10" y1="450.70" x2="270.10" y2="457.20" stroke="#000" stroke-width="2"/>
<text x="270.10" y="470.30" font-size="13.5" text-anchor="middle" fill="#111" stroke="#111" stroke-width="0.3" >800</text>
<line x1="324.00" y1="450.70" x2="324.00" y2="457.20" stroke="#000" stroke-width="2"/>
<text x="324.00" y="470.30" font-size="13.5" text-anchor="middle" fill="#111" stroke="#111" stroke-width="0.3" >1000</text>
<line x1="81.45" y1="450.70" x2="81.45" y2="454.20" stroke="#000" stroke-width="2"/>
<line x1="135.35" y1="450.70" x2="135.35" y2="454.20" stroke="#000" stroke-width="2"/>
<line x1="189.25" y1="450.70" x2="189.25" y2="454.20" stroke="#000" stroke-width="2"/>
<line x1="243.15" y1="450.70" x2="243.15" y2="454.20" stroke="#000" stroke-width="2"/>
<line x1="297.05" y1="450.70" x2="297.05" y2="454.20" stroke="#000" stroke-width="2"/>
<line x1="47.50" y1="450.70" x2="54.00" y2="450.70" stroke="#000" stroke-width="2"/>
<text x="44.70" y="454.30" font-size="13.5" text-anchor="end" fill="#111" stroke="#111" stroke-width="0.3" >100</text>
<line x1="47.50" y1="402.02" x2="54.00" y2="402.02" stroke="#000" stroke-width="2"/>
<text x="44.70" y="405.62" font-size="13.5" text-anchor="end" fill="#111" stroke="#111" stroke-width="0.3" >150</text>
<line x1="47.50" y1="353.35" x2="54.00" y2="353.35" stroke="#000" stroke-width="2"/>
<text x="44.70" y="356.95" font-size="13.5" text-anchor="end" fill="#111" stroke="#111" stroke-width="0.3" >200</text>
<line x1="47.50" y1="304.67" x2="54.00" y2="304.67" stroke="#000" stroke-width="2"/>
<text x="44.70" y="308.27" font-size="13.5" text-anchor="end" fill="#111" stroke="#111" stroke-width="0.3" >250</text>
<line x1="47.50" y1="256.00" x2="54.00" y2="256.00" stroke="#000" stroke-width="2"/>
<text x="44.70" y="259.60" font-size="13.5" text-anchor="end" fill="#111" stroke="#111" stroke-width="0.3" >300</text>
<line x1="50.50" y1="426.36" x2="54.00" y2="426.36" stroke="#000" stroke-width="2"/>
<line x1="50.50" y1="377.69" x2="54.00" y2="377.69" stroke="#000" stroke-width="2"/>
<line x1="50.50" y1="329.01" x2="54.00" y2="329.01" stroke="#000" stroke-width="2"/>
<line x1="50.50" y1="280.34" x2="54.00" y2="280.34" stroke="#000" stroke-width="2"/>
<text x="5.00" y="259.50" font-size="13.5" text-anchor="start" fill="#111" stroke="#111" stroke-width="0.3" >(c)</text>
<text x="147.50" y="485.00" font-size="13.5" text-anchor="start" fill="#111" stroke="#111" stroke-width="0.3" >Cycle number</text>
<text transform="translate(16.0,411.0) rotate(-90)" font-size="14" fill="#111" stroke="#111" stroke-width="0.3">Capacity (mAh g<tspan dx="1" dy="-6.5" font-size="8.5">-1</tspan><tspan dy="6.5">)</tspan></text>
<rect x="265.5" y="275.2" width="5.4" height="5.4" fill="#000"/>
<circle cx="268.2" cy="292.5" r="3.1" fill="#e01010"/>
<path d="M268.20,303.15 L271.30,308.73 L265.10,308.73 Z" fill="#1010e0" stroke="#1010e0" stroke-width="1"/>
<path d="M268.20,325.35 L271.30,319.77 L265.10,319.77 Z" fill="#ff22ff" stroke="#ff22ff" stroke-width="1"/>
<text x="285.00" y="282.20" font-size="12" text-anchor="start" fill="#111" stroke="#111" stroke-width="0.3" >0.5 C</text>
<text x="285.00" y="296.60" font-size="12" text-anchor="start" fill="#111" stroke="#111" stroke-width="0.3" >1 C</text>
<text x="285.00" y="311.20" font-size="12" text-anchor="start" fill="#111" stroke="#111" stroke-width="0.3" >2.5 C</text>
<text x="285.00" y="325.80" font-size="12" text-anchor="start" fill="#111" stroke="#111" stroke-width="0.3" >5 C</text>
<circle cx="404.28" cy="280.50" r="2.2" fill="#e01010" stroke="#e01010" stroke-width="0.8"/>
<circle cx="408.26" cy="282.60" r="2.2" fill="#e01010" stroke="#e01010" stroke-width="0.8"/>
<circle cx="412.24" cy="278.30" r="2.2" fill="#e01010" stroke="#e01010" stroke-width="0.8"/>
<circle cx="416.22" cy="281.30" r="2.2" fill="#e01010" stroke="#e01010" stroke-width="0.8"/>
<circle cx="420.20" cy="278.30" r="2.2" fill="#e01010" stroke="#e01010" stroke-width="0.8"/>
<circle cx="424.18" cy="279.40" r="2.2" fill="#e01010" stroke="#e01010" stroke-width="0.8"/>
<circle cx="428.16" cy="283.50" r="2.2" fill="#e01010" stroke="#e01010" stroke-width="0.8"/>
<circle cx="432.14" cy="282.50" r="2.2" fill="#e01010" stroke="#e01010" stroke-width="0.8"/>
<circle cx="436.12" cy="285.60" r="2.2" fill="#e01010" stroke="#e01010" stroke-width="0.8"/>
<circle cx="440.10" cy="282.40" r="2.2" fill="#e01010" stroke="#e01010" stroke-width="0.8"/>
<circle cx="444.08" cy="283.60" r="2.2" fill="#e01010" stroke="#e01010" stroke-width="0.8"/>
<circle cx="404.28" cy="275.18" r="2.3" fill="#fff" stroke="#e02020" stroke-width="0.85"/>
<circle cx="408.26" cy="281.72" r="2.3" fill="#fff" stroke="#e02020" stroke-width="0.85"/>
<circle cx="412.24" cy="277.48" r="2.3" fill="#fff" stroke="#e02020" stroke-width="0.85"/>
<circle cx="416.22" cy="280.46" r="2.3" fill="#fff" stroke="#e02020" stroke-width="0.85"/>
<circle cx="420.20" cy="277.48" r="2.3" fill="#fff" stroke="#e02020" stroke-width="0.85"/>
<circle cx="424.18" cy="278.59" r="2.3" fill="#fff" stroke="#e02020" stroke-width="0.85"/>
<circle cx="428.16" cy="281.99" r="2.3" fill="#fff" stroke="#e02020" stroke-width="0.85"/>
<circle cx="432.14" cy="281.72" r="2.3" fill="#fff" stroke="#e02020" stroke-width="0.85"/>
<circle cx="436.12" cy="284.29" r="2.3" fill="#fff" stroke="#e02020" stroke-width="0.85"/>
<circle cx="440.10" cy="281.72" r="2.3" fill="#fff" stroke="#e02020" stroke-width="0.85"/>
<circle cx="444.08" cy="281.72" r="2.3" fill="#fff" stroke="#e02020" stroke-width="0.85"/>
<circle cx="448.06" cy="294.99" r="2.3" fill="#fff" stroke="#e02020" stroke-width="0.85"/>
<circle cx="452.04" cy="292.42" r="2.3" fill="#fff" stroke="#e02020" stroke-width="0.85"/>
<circle cx="456.02" cy="293.74" r="2.3" fill="#fff" stroke="#e02020" stroke-width="0.85"/>
<circle cx="460.00" cy="294.08" r="2.3" fill="#fff" stroke="#e02020" stroke-width="0.85"/>
<circle cx="463.98" cy="294.08" r="2.3" fill="#fff" stroke="#e02020" stroke-width="0.85"/>
<circle cx="467.96" cy="293.81" r="2.3" fill="#fff" stroke="#e02020" stroke-width="0.85"/>
<circle cx="471.94" cy="290.47" r="2.3" fill="#fff" stroke="#e02020" stroke-width="0.85"/>
<circle cx="475.92" cy="289.91" r="2.3" fill="#fff" stroke="#e02020" stroke-width="0.85"/>
<circle cx="479.90" cy="290.47" r="2.3" fill="#fff" stroke="#e02020" stroke-width="0.85"/>
<circle cx="483.88" cy="294.50" r="2.3" fill="#fff" stroke="#e02020" stroke-width="0.85"/>
<circle cx="487.86" cy="293.81" r="2.3" fill="#fff" stroke="#e02020" stroke-width="0.85"/>
<circle cx="491.84" cy="304.02" r="2.3" fill="#fff" stroke="#e02020" stroke-width="0.85"/>
<circle cx="495.82" cy="305.06" r="2.3" fill="#fff" stroke="#e02020" stroke-width="0.85"/>
<circle cx="499.80" cy="305.06" r="2.3" fill="#fff" stroke="#e02020" stroke-width="0.85"/>
<circle cx="503.78" cy="305.06" r="2.3" fill="#fff" stroke="#e02020" stroke-width="0.85"/>
<circle cx="507.76" cy="305.06" r="2.3" fill="#fff" stroke="#e02020" stroke-width="0.85"/>
<circle cx="511.74" cy="305.06" r="2.3" fill="#fff" stroke="#e02020" stroke-width="0.85"/>
<circle cx="515.72" cy="305.06" r="2.3" fill="#fff" stroke="#e02020" stroke-width="0.85"/>
<circle cx="519.70" cy="303.67" r="2.3" fill="#fff" stroke="#e02020" stroke-width="0.85"/>
<circle cx="523.68" cy="302.28" r="2.3" fill="#fff" stroke="#e02020" stroke-width="0.85"/>
<circle cx="527.66" cy="302.00" r="2.3" fill="#fff" stroke="#e02020" stroke-width="0.85"/>
<circle cx="531.64" cy="302.00" r="2.3" fill="#fff" stroke="#e02020" stroke-width="0.85"/>
<circle cx="535.62" cy="318.26" r="2.3" fill="#fff" stroke="#e02020" stroke-width="0.85"/>
<circle cx="539.60" cy="318.26" r="2.3" fill="#fff" stroke="#e02020" stroke-width="0.85"/>
<circle cx="543.58" cy="318.26" r="2.3" fill="#fff" stroke="#e02020" stroke-width="0.85"/>
<circle cx="547.56" cy="318.26" r="2.3" fill="#fff" stroke="#e02020" stroke-width="0.85"/>
<circle cx="551.54" cy="318.26" r="2.3" fill="#fff" stroke="#e02020" stroke-width="0.85"/>
<circle cx="555.52" cy="318.26" r="2.3" fill="#fff" stroke="#e02020" stroke-width="0.85"/>
<circle cx="559.50" cy="318.26" r="2.3" fill="#fff" stroke="#e02020" stroke-width="0.85"/>
<circle cx="563.48" cy="318.26" r="2.3" fill="#fff" stroke="#e02020" stroke-width="0.85"/>
<circle cx="567.46" cy="318.26" r="2.3" fill="#fff" stroke="#e02020" stroke-width="0.85"/>
<circle cx="571.44" cy="318.26" r="2.3" fill="#fff" stroke="#e02020" stroke-width="0.85"/>
<circle cx="575.42" cy="318.26" r="2.3" fill="#fff" stroke="#e02020" stroke-width="0.85"/>
<circle cx="579.40" cy="341.47" r="2.3" fill="#fff" stroke="#e02020" stroke-width="0.85"/>
<circle cx="583.38" cy="345.15" r="2.3" fill="#fff" stroke="#e02020" stroke-width="0.85"/>
<circle cx="587.36" cy="346.05" r="2.3" fill="#fff" stroke="#e02020" stroke-width="0.85"/>
<circle cx="591.34" cy="344.66" r="2.3" fill="#fff" stroke="#e02020" stroke-width="0.85"/>
<circle cx="595.32" cy="344.53" r="2.3" fill="#fff" stroke="#e02020" stroke-width="0.85"/>
<circle cx="599.30" cy="344.53" r="2.3" fill="#fff" stroke="#e02020" stroke-width="0.85"/>
<circle cx="603.28" cy="344.53" r="2.3" fill="#fff" stroke="#e02020" stroke-width="0.85"/>
<circle cx="607.26" cy="344.53" r="2.3" fill="#fff" stroke="#e02020" stroke-width="0.85"/>
<circle cx="611.24" cy="344.53" r="2.3" fill="#fff" stroke="#e02020" stroke-width="0.85"/>
<circle cx="615.22" cy="344.53" r="2.3" fill="#fff" stroke="#e02020" stroke-width="0.85"/>
<circle cx="619.20" cy="344.53" r="2.3" fill="#fff" stroke="#e02020" stroke-width="0.85"/>
<circle cx="623.18" cy="295.47" r="2.3" fill="#fff" stroke="#e02020" stroke-width="0.85"/>
<circle cx="627.16" cy="294.99" r="2.3" fill="#fff" stroke="#e02020" stroke-width="0.85"/>
<circle cx="631.14" cy="295.47" r="2.3" fill="#fff" stroke="#e02020" stroke-width="0.85"/>
<circle cx="635.12" cy="292.97" r="2.3" fill="#fff" stroke="#e02020" stroke-width="0.85"/>
<circle cx="639.10" cy="292.42" r="2.3" fill="#fff" stroke="#e02020" stroke-width="0.85"/>
<circle cx="643.08" cy="291.93" r="2.3" fill="#fff" stroke="#e02020" stroke-width="0.85"/>
<circle cx="647.06" cy="292.42" r="2.3" fill="#fff" stroke="#e02020" stroke-width="0.85"/>
<circle cx="651.04" cy="291.37" r="2.3" fill="#fff" stroke="#e02020" stroke-width="0.85"/>
<circle cx="655.02" cy="295.47" r="2.3" fill="#fff" stroke="#e02020" stroke-width="0.85"/>
<circle cx="659.00" cy="296.10" r="2.3" fill="#fff" stroke="#e02020" stroke-width="0.85"/>
<circle cx="662.98" cy="296.58" r="2.3" fill="#fff" stroke="#e02020" stroke-width="0.85"/>
<path d="M404.28,333.36 L407.28,338.76 L401.28,338.76 Z" fill="#1010d0" stroke="#1010d0" stroke-width="1"/>
<path d="M408.26,335.45 L411.26,340.85 L405.26,340.85 Z" fill="#1010d0" stroke="#1010d0" stroke-width="1"/>
<path d="M412.24,340.73 L415.24,346.13 L409.24,346.13 Z" fill="#1010d0" stroke="#1010d0" stroke-width="1"/>
<path d="M416.22,346.64 L419.22,352.04 L413.22,352.04 Z" fill="#1010d0" stroke="#1010d0" stroke-width="1"/>
<path d="M420.20,356.71 L423.20,362.11 L417.20,362.11 Z" fill="#1010d0" stroke="#1010d0" stroke-width="1"/>
<path d="M424.18,363.94 L427.18,369.34 L421.18,369.34 Z" fill="#1010d0" stroke="#1010d0" stroke-width="1"/>
<path d="M428.16,371.09 L431.16,376.49 L425.16,376.49 Z" fill="#1010d0" stroke="#1010d0" stroke-width="1"/>
<path d="M432.14,376.16 L435.14,381.56 L429.14,381.56 Z" fill="#1010d0" stroke="#1010d0" stroke-width="1"/>
<path d="M436.12,379.15 L439.12,384.55 L433.12,384.55 Z" fill="#1010d0" stroke="#1010d0" stroke-width="1"/>
<path d="M440.10,383.25 L443.10,388.65 L437.10,388.65 Z" fill="#1010d0" stroke="#1010d0" stroke-width="1"/>
<path d="M448.06,400.83 L451.06,406.23 L445.06,406.23 Z" fill="#1010d0" stroke="#1010d0" stroke-width="1"/>
<path d="M491.84,424.11 L494.84,429.51 L488.84,429.51 Z" fill="#1010d0" stroke="#1010d0" stroke-width="1"/>
<path d="M404.28,305.88 L407.38,311.46 L401.18,311.46 Z" fill="#fff" stroke="#2a2ad8" stroke-width="0.9"/>
<path d="M408.26,329.50 L411.36,335.08 L405.16,335.08 Z" fill="#fff" stroke="#2a2ad8" stroke-width="0.9"/>
<path d="M412.24,335.34 L415.34,340.92 L409.14,340.92 Z" fill="#fff" stroke="#2a2ad8" stroke-width="0.9"/>
<path d="M416.22,340.62 L419.32,346.20 L413.12,346.20 Z" fill="#fff" stroke="#2a2ad8" stroke-width="0.9"/>
<path d="M420.20,346.53 L423.30,352.11 L417.10,352.11 Z" fill="#fff" stroke="#2a2ad8" stroke-width="0.9"/>
<path d="M424.18,357.64 L427.28,363.22 L421.08,363.22 Z" fill="#fff" stroke="#2a2ad8" stroke-width="0.9"/>
<path d="M428.16,364.94 L431.26,370.52 L425.06,370.52 Z" fill="#fff" stroke="#2a2ad8" stroke-width="0.9"/>
<path d="M432.14,371.19 L435.24,376.77 L429.04,376.77 Z" fill="#fff" stroke="#2a2ad8" stroke-width="0.9"/>
<path d="M436.12,377.03 L439.22,382.61 L433.02,382.61 Z" fill="#fff" stroke="#2a2ad8" stroke-width="0.9"/>
<path d="M440.10,380.23 L443.20,385.81 L437.00,385.81 Z" fill="#fff" stroke="#2a2ad8" stroke-width="0.9"/>
<path d="M444.08,383.70 L447.18,389.28 L440.98,389.28 Z" fill="#fff" stroke="#2a2ad8" stroke-width="0.9"/>
<path d="M448.06,398.29 L451.16,403.87 L444.96,403.87 Z" fill="#fff" stroke="#2a2ad8" stroke-width="0.9"/>
<path d="M452.04,399.33 L455.14,404.91 L448.94,404.91 Z" fill="#fff" stroke="#2a2ad8" stroke-width="0.9"/>
<path d="M456.02,400.37 L459.12,405.95 L452.92,405.95 Z" fill="#fff" stroke="#2a2ad8" stroke-width="0.9"/>
<path d="M460.00,401.42 L463.10,407.00 L456.90,407.00 Z" fill="#fff" stroke="#2a2ad8" stroke-width="0.9"/>
<path d="M463.98,402.46 L467.08,408.04 L460.88,408.04 Z" fill="#fff" stroke="#2a2ad8" stroke-width="0.9"/>
<path d="M467.96,403.50 L471.06,409.08 L464.86,409.08 Z" fill="#fff" stroke="#2a2ad8" stroke-width="0.9"/>
<path d="M471.94,404.54 L475.04,410.12 L468.84,410.12 Z" fill="#fff" stroke="#2a2ad8" stroke-width="0.9"/>
<path d="M475.92,405.59 L479.02,411.17 L472.82,411.17 Z" fill="#fff" stroke="#2a2ad8" stroke-width="0.9"/>
<path d="M479.90,406.63 L483.00,412.21 L476.80,412.21 Z" fill="#fff" stroke="#2a2ad8" stroke-width="0.9"/>
<path d="M483.88,407.67 L486.98,413.25 L480.78,413.25 Z" fill="#fff" stroke="#2a2ad8" stroke-width="0.9"/>
<path d="M487.86,408.71 L490.96,414.29 L484.76,414.29 Z" fill="#fff" stroke="#2a2ad8" stroke-width="0.9"/>
<path d="M491.84,420.94 L494.94,426.52 L488.74,426.52 Z" fill="#fff" stroke="#2a2ad8" stroke-width="0.9"/>
<path d="M495.82,421.33 L498.92,426.91 L492.72,426.91 Z" fill="#fff" stroke="#2a2ad8" stroke-width="0.9"/>
<path d="M499.80,421.72 L502.90,427.30 L496.70,427.30 Z" fill="#fff" stroke="#2a2ad8" stroke-width="0.9"/>
<path d="M503.78,422.11 L506.88,427.69 L500.68,427.69 Z" fill="#fff" stroke="#2a2ad8" stroke-width="0.9"/>
<path d="M507.76,422.50 L510.86,428.08 L504.66,428.08 Z" fill="#fff" stroke="#2a2ad8" stroke-width="0.9"/>
<path d="M511.74,422.89 L514.84,428.47 L508.64,428.47 Z" fill="#fff" stroke="#2a2ad8" stroke-width="0.9"/>
<path d="M515.72,423.28 L518.82,428.86 L512.62,428.86 Z" fill="#fff" stroke="#2a2ad8" stroke-width="0.9"/>
<path d="M519.70,423.66 L522.80,429.24 L516.60,429.24 Z" fill="#fff" stroke="#2a2ad8" stroke-width="0.9"/>
<path d="M523.68,424.05 L526.78,429.63 L520.58,429.63 Z" fill="#fff" stroke="#2a2ad8" stroke-width="0.9"/>
<path d="M527.66,424.44 L530.76,430.02 L524.56,430.02 Z" fill="#fff" stroke="#2a2ad8" stroke-width="0.9"/>
<path d="M531.64,424.83 L534.74,430.41 L528.54,430.41 Z" fill="#fff" stroke="#2a2ad8" stroke-width="0.9"/>
<path d="M535.62,438.87 L538.72,444.45 L532.52,444.45 Z" fill="#fff" stroke="#2a2ad8" stroke-width="0.9"/>
<path d="M539.60,438.96 L542.70,444.54 L536.50,444.54 Z" fill="#fff" stroke="#2a2ad8" stroke-width="0.9"/>
<path d="M543.58,439.06 L546.68,444.64 L540.48,444.64 Z" fill="#fff" stroke="#2a2ad8" stroke-width="0.9"/>
<path d="M547.56,439.16 L550.66,444.74 L544.46,444.74 Z" fill="#fff" stroke="#2a2ad8" stroke-width="0.9"/>
<path d="M551.54,439.26 L554.64,444.84 L548.44,444.84 Z" fill="#fff" stroke="#2a2ad8" stroke-width="0.9"/>
<path d="M555.52,439.35 L558.62,444.93 L552.42,444.93 Z" fill="#fff" stroke="#2a2ad8" stroke-width="0.9"/>
<path d="M559.50,439.45 L562.60,445.03 L556.40,445.03 Z" fill="#fff" stroke="#2a2ad8" stroke-width="0.9"/>
<path d="M563.48,439.55 L566.58,445.13 L560.38,445.13 Z" fill="#fff" stroke="#2a2ad8" stroke-width="0.9"/>
<path d="M567.46,439.64 L570.56,445.22 L564.36,445.22 Z" fill="#fff" stroke="#2a2ad8" stroke-width="0.9"/>
<path d="M571.44,439.74 L574.54,445.32 L568.34,445.32 Z" fill="#fff" stroke="#2a2ad8" stroke-width="0.9"/>
<path d="M575.42,439.84 L578.52,445.42 L572.32,445.42 Z" fill="#fff" stroke="#2a2ad8" stroke-width="0.9"/>
<path d="M579.40,440.95 L582.50,446.53 L576.30,446.53 Z" fill="#fff" stroke="#2a2ad8" stroke-width="0.9"/>
<path d="M583.38,441.15 L586.48,446.73 L580.28,446.73 Z" fill="#fff" stroke="#2a2ad8" stroke-width="0.9"/>
<path d="M587.36,441.35 L590.46,446.93 L584.26,446.93 Z" fill="#fff" stroke="#2a2ad8" stroke-width="0.9"/>
<path d="M591.34,441.56 L594.44,447.14 L588.24,447.14 Z" fill="#fff" stroke="#2a2ad8" stroke-width="0.9"/>
<path d="M595.32,441.76 L598.42,447.34 L592.22,447.34 Z" fill="#fff" stroke="#2a2ad8" stroke-width="0.9"/>
<path d="M599.30,441.96 L602.40,447.54 L596.20,447.54 Z" fill="#fff" stroke="#2a2ad8" stroke-width="0.9"/>
<path d="M603.28,442.16 L606.38,447.74 L600.18,447.74 Z" fill="#fff" stroke="#2a2ad8" stroke-width="0.9"/>
<path d="M607.26,442.36 L610.36,447.94 L604.16,447.94 Z" fill="#fff" stroke="#2a2ad8" stroke-width="0.9"/>
<path d="M611.24,442.56 L614.34,448.14 L608.14,448.14 Z" fill="#fff" stroke="#2a2ad8" stroke-width="0.9"/>
<path d="M615.22,442.76 L618.32,448.34 L612.12,448.34 Z" fill="#fff" stroke="#2a2ad8" stroke-width="0.9"/>
<path d="M619.20,442.97 L622.30,448.55 L616.10,448.55 Z" fill="#fff" stroke="#2a2ad8" stroke-width="0.9"/>
<path d="M623.18,410.10 L626.28,415.68 L620.08,415.68 Z" fill="#fff" stroke="#2a2ad8" stroke-width="0.9"/>
<path d="M627.16,410.52 L630.26,416.10 L624.06,416.10 Z" fill="#fff" stroke="#2a2ad8" stroke-width="0.9"/>
<path d="M631.14,410.94 L634.24,416.52 L628.04,416.52 Z" fill="#fff" stroke="#2a2ad8" stroke-width="0.9"/>
<path d="M635.12,411.35 L638.22,416.93 L632.02,416.93 Z" fill="#fff" stroke="#2a2ad8" stroke-width="0.9"/>
<path d="M639.10,411.77 L642.20,417.35 L636.00,417.35 Z" fill="#fff" stroke="#2a2ad8" stroke-width="0.9"/>
<path d="M643.08,412.19 L646.18,417.77 L639.98,417.77 Z" fill="#fff" stroke="#2a2ad8" stroke-width="0.9"/>
<path d="M647.06,412.60 L650.16,418.18 L643.96,418.18 Z" fill="#fff" stroke="#2a2ad8" stroke-width="0.9"/>
<path d="M651.04,413.02 L654.14,418.60 L647.94,418.60 Z" fill="#fff" stroke="#2a2ad8" stroke-width="0.9"/>
<path d="M655.02,413.44 L658.12,419.02 L651.92,419.02 Z" fill="#fff" stroke="#2a2ad8" stroke-width="0.9"/>
<path d="M659.00,413.85 L662.10,419.43 L655.90,419.43 Z" fill="#fff" stroke="#2a2ad8" stroke-width="0.9"/>
<path d="M662.98,414.27 L666.08,419.85 L659.88,419.85 Z" fill="#fff" stroke="#2a2ad8" stroke-width="0.9"/>
<rect x="396.60" y="256.00" width="274.70" height="194.50" fill="none" stroke="#000" stroke-width="2.0"/>
<line x1="400.30" y1="450.50" x2="400.30" y2="457.00" stroke="#000" stroke-width="2"/>
<text x="400.30" y="470.10" font-size="13.5" text-anchor="middle" fill="#111" stroke="#111" stroke-width="0.3" >0</text>
<line x1="479.90" y1="450.50" x2="479.90" y2="457.00" stroke="#000" stroke-width="2"/>
<text x="479.90" y="470.10" font-size="13.5" text-anchor="middle" fill="#111" stroke="#111" stroke-width="0.3" >20</text>
<line x1="559.50" y1="450.50" x2="559.50" y2="457.00" stroke="#000" stroke-width="2"/>
<text x="559.50" y="470.10" font-size="13.5" text-anchor="middle" fill="#111" stroke="#111" stroke-width="0.3" >40</text>
<line x1="639.10" y1="450.50" x2="639.10" y2="457.00" stroke="#000" stroke-width="2"/>
<text x="639.10" y="470.10" font-size="13.5" text-anchor="middle" fill="#111" stroke="#111" stroke-width="0.3" >60</text>
<line x1="440.10" y1="450.50" x2="440.10" y2="454.00" stroke="#000" stroke-width="2"/>
<line x1="519.70" y1="450.50" x2="519.70" y2="454.00" stroke="#000" stroke-width="2"/>
<line x1="599.30" y1="450.50" x2="599.30" y2="454.00" stroke="#000" stroke-width="2"/>
<line x1="390.10" y1="446.80" x2="396.60" y2="446.80" stroke="#000" stroke-width="2"/>
<text x="387.30" y="450.40" font-size="13.5" text-anchor="end" fill="#111" stroke="#111" stroke-width="0.3" >0</text>
<line x1="390.10" y1="412.06" x2="396.60" y2="412.06" stroke="#000" stroke-width="2"/>
<text x="387.30" y="415.66" font-size="13.5" text-anchor="end" fill="#111" stroke="#111" stroke-width="0.3" >50</text>
<line x1="390.10" y1="377.32" x2="396.60" y2="377.32" stroke="#000" stroke-width="2"/>
<text x="387.30" y="380.92" font-size="13.5" text-anchor="end" fill="#111" stroke="#111" stroke-width="0.3" >100</text>
<line x1="390.10" y1="342.58" x2="396.60" y2="342.58" stroke="#000" stroke-width="2"/>
<text x="387.30" y="346.18" font-size="13.5" text-anchor="end" fill="#111" stroke="#111" stroke-width="0.3" >150</text>
<line x1="390.10" y1="307.84" x2="396.60" y2="307.84" stroke="#000" stroke-width="2"/>
<text x="387.30" y="311.44" font-size="13.5" text-anchor="end" fill="#111" stroke="#111" stroke-width="0.3" >200</text>
<line x1="390.10" y1="273.10" x2="396.60" y2="273.10" stroke="#000" stroke-width="2"/>
<text x="387.30" y="276.70" font-size="13.5" text-anchor="end" fill="#111" stroke="#111" stroke-width="0.3" >250</text>
<line x1="393.10" y1="429.43" x2="396.60" y2="429.43" stroke="#000" stroke-width="2"/>
<line x1="393.10" y1="394.69" x2="396.60" y2="394.69" stroke="#000" stroke-width="2"/>
<line x1="393.10" y1="359.95" x2="396.60" y2="359.95" stroke="#000" stroke-width="2"/>
<line x1="393.10" y1="325.21" x2="396.60" y2="325.21" stroke="#000" stroke-width="2"/>
<line x1="393.10" y1="290.47" x2="396.60" y2="290.47" stroke="#000" stroke-width="2"/>
<line x1="393.10" y1="255.73" x2="396.60" y2="255.73" stroke="#000" stroke-width="2"/>
<text x="347.80" y="259.20" font-size="13.5" text-anchor="start" fill="#111" stroke="#111" stroke-width="0.3" >(d)</text>
<text x="488.30" y="485.00" font-size="13.5" text-anchor="start" fill="#111" stroke="#111" stroke-width="0.3" >Cycle number</text>
<text transform="translate(358.6,416.3) rotate(-90)" font-size="14" fill="#111" stroke="#111" stroke-width="0.3">Capacity (mAh g<tspan dx="1" dy="-6.5" font-size="8.5">-1</tspan><tspan dy="6.5">)</tspan></text>
<text x="405.00" y="272.00" font-size="14" text-anchor="start" fill="#111" stroke="#111" stroke-width="0.3" >0.25 C</text>
<text x="455.00" y="286.50" font-size="14" text-anchor="start" fill="#111" stroke="#111" stroke-width="0.3" >0.5 C</text>
<text x="503.00" y="297.80" font-size="14" text-anchor="start" fill="#111" stroke="#111" stroke-width="0.3" >1 C</text>
<text x="541.00" y="312.50" font-size="14" text-anchor="start" fill="#111" stroke="#111" stroke-width="0.3" >2.5 C</text>
<text x="589.50" y="339.30" font-size="14" text-anchor="start" fill="#111" stroke="#111" stroke-width="0.3" >5 C</text>
<text x="627.50" y="286.50" font-size="14" text-anchor="start" fill="#111" stroke="#111" stroke-width="0.3" >0.5 C</text>
<circle cx="471" cy="361.9" r="3.0" fill="#e01010"/>
<path d="M471.00,373.26 L474.00,378.66 L468.00,378.66 Z" fill="#1010d0" stroke="#1010d0" stroke-width="1"/>
<text x="488.00" y="366.20" font-size="12" text-anchor="start" fill="#111" stroke="#111" stroke-width="0.3" >ATHMSs</text>
<text x="488.00" y="380.80" font-size="12" text-anchor="start" fill="#111" stroke="#111" stroke-width="0.3" >Anatase TiO<tspan dy="3" font-size="8">2</tspan><tspan dy="-3"> nanoparticles</tspan></text>
</svg></body></html>
